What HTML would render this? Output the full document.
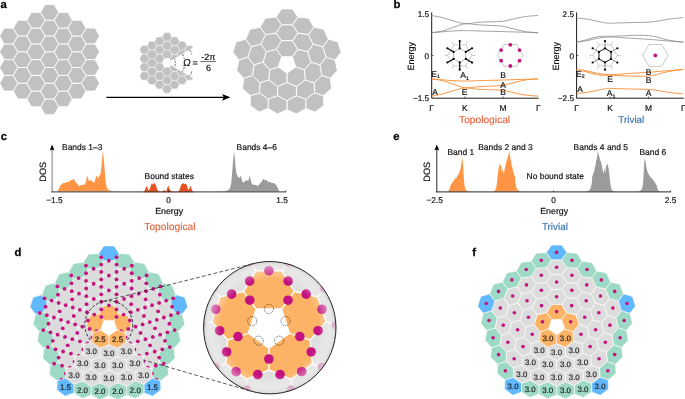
<!DOCTYPE html>
<html><head><meta charset="utf-8"><title>Figure</title>
<style>html,body{margin:0;padding:0;background:#fff}svg{display:block}</style></head>
<body>
<svg width="685" height="399" viewBox="0 0 685 399" text-rendering="geometricPrecision" font-family='"Liberation Sans", Arial, Helvetica, sans-serif'>
<defs>
<radialGradient id="lens" cx="50%" cy="50%" r="50%"><stop offset="0" stop-color="#fff" stop-opacity="0"/><stop offset="0.74" stop-color="#fff" stop-opacity="0"/><stop offset="0.9" stop-color="#f4f4f4" stop-opacity="0.45"/><stop offset="0.97" stop-color="#e2e2e2" stop-opacity="0.8"/><stop offset="1" stop-color="#cfcfcf" stop-opacity="0.9"/></radialGradient>
<radialGradient id="halo" cx="50%" cy="50%" r="50%"><stop offset="0.9" stop-color="#999" stop-opacity="0.55"/><stop offset="1" stop-color="#999" stop-opacity="0"/></radialGradient>
<clipPath id="insetclip"><circle cx="269.8" cy="327.7" r="66.2"/></clipPath>
</defs>
<rect width="685" height="399" fill="#fff"/>
<text x="0.4" y="7.9" font-size="11.3" fill="#000" font-weight="bold" stroke="#000" stroke-width="0.25">a</text>
<text x="393.4" y="8" font-size="11.3" fill="#000" font-weight="bold" stroke="#000" stroke-width="0.25">b</text>
<text x="0.8" y="140" font-size="11.3" fill="#000" font-weight="bold" stroke="#000" stroke-width="0.25">c</text>
<text x="393.2" y="140.4" font-size="11.3" fill="#000" font-weight="bold" stroke="#000" stroke-width="0.25">e</text>
<text x="14.6" y="255.8" font-size="11.3" fill="#000" font-weight="bold" stroke="#000" stroke-width="0.25">d</text>
<text x="472.2" y="255.8" font-size="11.3" fill="#000" font-weight="bold" stroke="#000" stroke-width="0.25">f</text>
<g fill="#c1c1c1" stroke="#fff" stroke-width="0.9" stroke-linejoin="round">
<polygon points="58.69,106.85 54.15,98.97 45.05,98.97 40.51,106.85 45.05,114.72 54.15,114.72"/>
<polygon points="72.33,98.97 67.79,91.1 58.69,91.1 54.15,98.97 58.69,106.85 67.79,106.85"/>
<polygon points="85.97,91.1 81.43,83.22 72.33,83.22 67.79,91.1 72.33,98.97 81.43,98.97"/>
<polygon points="99.61,83.23 95.07,75.35 85.97,75.35 81.43,83.23 85.97,91.1 95.07,91.1"/>
<polygon points="45.05,98.97 40.51,91.1 31.41,91.1 26.87,98.97 31.41,106.85 40.51,106.85"/>
<polygon points="58.69,91.1 54.15,83.22 45.05,83.22 40.51,91.1 45.05,98.97 54.15,98.97"/>
<polygon points="72.33,83.22 67.79,75.35 58.69,75.35 54.15,83.22 58.69,91.1 67.79,91.1"/>
<polygon points="85.97,75.35 81.43,67.47 72.33,67.47 67.79,75.35 72.33,83.22 81.43,83.22"/>
<polygon points="99.61,67.48 95.07,59.6 85.97,59.6 81.43,67.48 85.97,75.35 95.07,75.35"/>
<polygon points="31.41,91.1 26.87,83.22 17.77,83.22 13.23,91.1 17.77,98.97 26.87,98.97"/>
<polygon points="45.05,83.22 40.51,75.35 31.41,75.35 26.87,83.22 31.41,91.1 40.51,91.1"/>
<polygon points="58.69,75.35 54.15,67.47 45.05,67.47 40.51,75.35 45.05,83.22 54.15,83.22"/>
<polygon points="72.33,67.47 67.79,59.6 58.69,59.6 54.15,67.47 58.69,75.35 67.79,75.35"/>
<polygon points="85.97,59.6 81.43,51.73 72.33,51.73 67.79,59.6 72.33,67.47 81.43,67.48"/>
<polygon points="99.61,51.73 95.07,43.85 85.97,43.85 81.43,51.73 85.97,59.6 95.07,59.6"/>
<polygon points="17.77,83.22 13.23,75.35 4.13,75.35 -0.41,83.22 4.13,91.1 13.23,91.1"/>
<polygon points="31.41,75.35 26.87,67.47 17.77,67.47 13.23,75.35 17.77,83.22 26.87,83.22"/>
<polygon points="45.05,67.47 40.51,59.6 31.41,59.6 26.87,67.47 31.41,75.35 40.51,75.35"/>
<polygon points="58.69,59.6 54.15,51.73 45.05,51.73 40.51,59.6 45.05,67.47 54.15,67.47"/>
<polygon points="72.33,51.73 67.79,43.85 58.69,43.85 54.15,51.73 58.69,59.6 67.79,59.6"/>
<polygon points="85.97,43.85 81.43,35.98 72.33,35.98 67.79,43.85 72.33,51.73 81.43,51.73"/>
<polygon points="99.61,35.98 95.07,28.1 85.97,28.1 81.43,35.98 85.97,43.85 95.07,43.85"/>
<polygon points="17.77,67.47 13.23,59.6 4.13,59.6 -0.41,67.47 4.13,75.35 13.23,75.35"/>
<polygon points="31.41,59.6 26.87,51.73 17.77,51.73 13.23,59.6 17.77,67.47 26.87,67.47"/>
<polygon points="45.05,51.73 40.51,43.85 31.41,43.85 26.87,51.73 31.41,59.6 40.51,59.6"/>
<polygon points="58.69,43.85 54.15,35.98 45.05,35.98 40.51,43.85 45.05,51.73 54.15,51.73"/>
<polygon points="72.33,35.98 67.79,28.1 58.69,28.1 54.15,35.98 58.69,43.85 67.79,43.85"/>
<polygon points="85.97,28.1 81.43,20.23 72.33,20.23 67.79,28.1 72.33,35.97 81.43,35.98"/>
<polygon points="17.77,51.72 13.23,43.85 4.13,43.85 -0.41,51.72 4.13,59.6 13.23,59.6"/>
<polygon points="31.41,43.85 26.87,35.98 17.77,35.98 13.23,43.85 17.77,51.73 26.87,51.73"/>
<polygon points="45.05,35.98 40.51,28.1 31.41,28.1 26.87,35.98 31.41,43.85 40.51,43.85"/>
<polygon points="58.69,28.1 54.15,20.23 45.05,20.23 40.51,28.1 45.05,35.97 54.15,35.98"/>
<polygon points="72.33,20.23 67.79,12.35 58.69,12.35 54.15,20.23 58.69,28.1 67.79,28.1"/>
<polygon points="17.77,35.97 13.23,28.1 4.13,28.1 -0.41,35.97 4.13,43.85 13.23,43.85"/>
<polygon points="31.41,28.1 26.87,20.23 17.77,20.23 13.23,28.1 17.77,35.97 26.87,35.98"/>
<polygon points="45.05,20.23 40.51,12.35 31.41,12.35 26.87,20.23 31.41,28.1 40.51,28.1"/>
<polygon points="58.69,12.35 54.15,4.48 45.05,4.48 40.51,12.35 45.05,20.23 54.15,20.23"/>
</g>
<line x1="106.4" y1="97.3" x2="225" y2="97.3" stroke="#000" stroke-width="1.2"/>
<polygon points="230.4,97.3 222,93.9 223.8,97.3 222,100.7" fill="#000"/>
<g fill="#c1c1c1" stroke="#fff" stroke-width="0.45" stroke-linejoin="round">
<polygon points="172,88.88 169.5,84.55 164.5,84.55 162,88.88 164.5,93.21 169.5,93.21"/>
<polygon points="179.5,84.55 177,80.22 172,80.22 169.5,84.55 172,88.88 177,88.88"/>
<polygon points="187,80.22 184.5,75.89 179.5,75.89 177,80.22 179.5,84.55 184.5,84.55"/>
<polygon points="185.75,73.72 184.5,75.89 187,80.22 192,80.22 193.25,78.05"/>
<polygon points="164.5,84.55 162,80.22 157,80.22 154.5,84.55 157,88.88 162,88.88"/>
<polygon points="172,80.22 169.5,75.89 164.5,75.89 162,80.22 164.5,84.55 169.5,84.55"/>
<polygon points="179.5,75.89 177,71.56 172,71.56 169.5,75.89 172,80.22 177,80.22"/>
<polygon points="178.25,69.39 177,71.56 179.5,75.89 184.5,75.89 185.75,73.72"/>
<polygon points="157,80.22 154.5,75.89 149.5,75.89 147,80.22 149.5,84.55 154.5,84.55"/>
<polygon points="164.5,75.89 162,71.56 157,71.56 154.5,75.89 157,80.22 162,80.22"/>
<polygon points="172,71.56 169.5,67.23 164.5,67.23 162,71.56 164.5,75.89 169.5,75.89"/>
<polygon points="170.75,65.06 169.5,67.23 172,71.56 177,71.56 178.25,69.39"/>
<polygon points="149.5,75.89 147,71.56 142,71.56 139.5,75.89 142,80.22 147,80.22"/>
<polygon points="157,71.56 154.5,67.23 149.5,67.23 147,71.56 149.5,75.89 154.5,75.89"/>
<polygon points="164.5,67.23 162,62.9 157,62.9 154.5,67.23 157,71.56 162,71.56"/>
<polygon points="178.25,56.41 177,54.24 172,54.24 169.5,58.57 170.75,60.73"/>
<polygon points="185.75,52.08 184.5,49.91 179.5,49.91 177,54.24 178.25,56.41"/>
<polygon points="193.25,47.75 192,45.58 187,45.58 184.5,49.91 185.75,52.08"/>
<polygon points="149.5,67.23 147,62.9 142,62.9 139.5,67.23 142,71.56 147,71.56"/>
<polygon points="157,62.9 154.5,58.57 149.5,58.57 147,62.9 149.5,67.23 154.5,67.23"/>
<polygon points="164.5,58.57 162,54.24 157,54.24 154.5,58.57 157,62.9 162,62.9"/>
<polygon points="172,54.24 169.5,49.91 164.5,49.91 162,54.24 164.5,58.57 169.5,58.57"/>
<polygon points="179.5,49.91 177,45.58 172,45.58 169.5,49.91 172,54.24 177,54.24"/>
<polygon points="187,45.58 184.5,41.25 179.5,41.25 177,45.58 179.5,49.91 184.5,49.91"/>
<polygon points="149.5,58.57 147,54.24 142,54.24 139.5,58.57 142,62.9 147,62.9"/>
<polygon points="157,54.24 154.5,49.91 149.5,49.91 147,54.24 149.5,58.57 154.5,58.57"/>
<polygon points="164.5,49.91 162,45.58 157,45.58 154.5,49.91 157,54.24 162,54.24"/>
<polygon points="172,45.58 169.5,41.25 164.5,41.25 162,45.58 164.5,49.91 169.5,49.91"/>
<polygon points="179.5,41.25 177,36.92 172,36.92 169.5,41.25 172,45.58 177,45.58"/>
<polygon points="149.5,49.91 147,45.58 142,45.58 139.5,49.91 142,54.24 147,54.24"/>
<polygon points="157,45.58 154.5,41.25 149.5,41.25 147,45.58 149.5,49.91 154.5,49.91"/>
<polygon points="164.5,41.25 162,36.92 157,36.92 154.5,41.25 157,45.58 162,45.58"/>
<polygon points="172,36.92 169.5,32.59 164.5,32.59 162,36.92 164.5,41.25 169.5,41.25"/>
</g>
<path d="M174.27 58.7A8.4 8.4 0 0 1 174.27 67.1" fill="none" stroke="#222" stroke-width="0.7" stroke-dasharray="1.7 1.1"/>
<path d="M182.42 54A17.8 17.8 0 0 1 184.34 58.9" fill="none" stroke="#222" stroke-width="0.7" stroke-dasharray="2.4 1.4"/>
<path d="M184.34 66.9A17.8 17.8 0 0 1 182.42 71.8" fill="none" stroke="#222" stroke-width="0.7" stroke-dasharray="2.4 1.4"/>
<path d="M189.78 49.75A26.3 26.3 0 0 1 191.87 54.34" fill="none" stroke="#222" stroke-width="0.7" stroke-dasharray="2.4 1.4"/>
<path d="M191.87 71.46A26.3 26.3 0 0 1 189.78 76.05" fill="none" stroke="#222" stroke-width="0.7" stroke-dasharray="2.4 1.4"/>
<text x="182.9" y="65.5" font-size="10" fill="#111" font-style="italic" stroke="#111" stroke-width="0.18">&#937;</text>
<text x="192.6" y="65.6" font-size="9" fill="#111" stroke="#111" stroke-width="0.18">=</text>
<text x="208.3" y="59.8" font-size="9" fill="#111" text-anchor="middle" stroke="#111" stroke-width="0.18">-2&#960;</text>
<line x1="200.4" y1="61.5" x2="216" y2="61.5" stroke="#111" stroke-width="0.6"/>
<text x="208.6" y="71" font-size="9" fill="#111" text-anchor="middle" stroke="#111" stroke-width="0.18">6</text>
<g stroke="#fff" stroke-width="0.9" stroke-linejoin="round">
<polygon points="323.47,95.72 314.57,92.75 305.73,99.18 305.8,108.56 315.03,111.99 323.88,105.56" fill="#c1c1c1"/>
<polygon points="330.38,78.19 321.7,75.38 314.05,82.81 314.57,92.75 323.47,95.72 331.53,88.52" fill="#c1c1c1"/>
<polygon points="335.09,59.95 326.15,57.13 319.88,64.86 321.7,75.38 330.38,78.19 337.38,70.52" fill="#c1c1c1"/>
<polygon points="305.73,99.18 296.44,95.61 287,100.59 287,109.71 296.46,114 305.8,108.56" fill="#c1c1c1"/>
<polygon points="314.05,82.81 305.23,79.91 296.4,86.33 296.44,95.61 305.73,99.18 314.57,92.75" fill="#c1c1c1"/>
<polygon points="319.88,64.86 311.05,62.03 304.35,69.74 305.23,79.91 314.05,82.81 321.7,75.38" fill="#c1c1c1"/>
<polygon points="287,100.59 277.56,95.61 268.27,99.18 268.2,108.56 277.54,114 287,109.71" fill="#c1c1c1"/>
<polygon points="296.4,86.33 287,82.34 277.6,86.33 277.56,95.61 287,100.59 296.44,95.61" fill="#c1c1c1"/>
<polygon points="304.35,69.74 295.68,66.92 287,73.22 287,82.34 296.4,86.33 305.23,79.91" fill="#c1c1c1"/>
<polygon points="268.27,99.18 259.43,92.75 250.53,95.72 250.12,105.56 258.97,111.99 268.2,108.56" fill="#c1c1c1"/>
<polygon points="277.6,86.33 268.77,79.91 259.95,82.81 259.43,92.75 268.27,99.18 277.56,95.61" fill="#c1c1c1"/>
<polygon points="287,73.22 278.32,66.92 269.65,69.74 268.77,79.91 277.6,86.33 287,82.34" fill="#c1c1c1"/>
<polygon points="311.05,62.03 307.67,51.64 297.72,49.34 292.36,56.72 295.68,66.92 304.35,69.74" fill="#c1c1c1"/>
<polygon points="326.15,57.13 322.77,46.73 313.16,44.16 307.67,51.64 311.05,62.03 319.88,64.86" fill="#c1c1c1"/>
<polygon points="341.21,52.24 337.82,41.83 328.34,39.19 322.77,46.73 326.15,57.13 335.09,59.95" fill="#c1c1c1"/>
<polygon points="259.95,82.81 252.3,75.38 243.62,78.19 242.47,88.52 250.53,95.72 259.43,92.75" fill="#c1c1c1"/>
<polygon points="269.65,69.74 262.95,62.03 254.12,64.86 252.3,75.38 259.95,82.81 268.77,79.91" fill="#c1c1c1"/>
<polygon points="281.64,56.72 276.28,49.34 266.33,51.64 262.95,62.03 269.65,69.74 278.32,66.92" fill="#c1c1c1"/>
<polygon points="297.72,49.34 292.46,40.59 281.54,40.59 276.28,49.34 281.64,56.72 292.36,56.72" fill="#c1c1c1"/>
<polygon points="313.16,44.16 308.45,34.58 297.88,33.06 292.46,40.59 297.72,49.34 307.67,51.64" fill="#c1c1c1"/>
<polygon points="328.34,39.19 323.99,29.29 313.81,27.2 308.45,34.58 313.16,44.16 322.77,46.73" fill="#c1c1c1"/>
<polygon points="254.12,64.86 247.85,57.13 238.91,59.95 236.62,70.52 243.62,78.19 252.3,75.38" fill="#c1c1c1"/>
<polygon points="266.33,51.64 260.84,44.16 251.23,46.73 247.85,57.13 254.12,64.86 262.95,62.03" fill="#c1c1c1"/>
<polygon points="281.54,40.59 276.12,33.06 265.55,34.58 260.84,44.16 266.33,51.64 276.28,49.34" fill="#c1c1c1"/>
<polygon points="297.88,33.06 292.47,24.72 281.53,24.72 276.12,33.06 281.54,40.59 292.46,40.59" fill="#c1c1c1"/>
<polygon points="313.81,27.2 308.68,18.17 297.92,17.08 292.47,24.72 297.88,33.06 308.45,34.58" fill="#c1c1c1"/>
<polygon points="251.23,46.73 245.66,39.19 236.18,41.83 232.79,52.24 238.91,59.95 247.85,57.13" fill="#c1c1c1"/>
<polygon points="265.55,34.58 260.19,27.2 250.01,29.29 245.66,39.19 251.23,46.73 260.84,44.16" fill="#c1c1c1"/>
<polygon points="281.53,24.72 276.08,17.08 265.32,18.17 260.19,27.2 265.55,34.58 276.12,33.06" fill="#c1c1c1"/>
<polygon points="297.92,17.08 292.47,8.88 281.53,8.88 276.08,17.08 281.53,24.72 292.47,24.72" fill="#c1c1c1"/>
</g>
<path d="M431.7 12.4V98.2H538.7" fill="none" stroke="#000" stroke-width="0.9"/>
<line x1="464.8" y1="98.2" x2="464.8" y2="96.6" stroke="#000" stroke-width="0.6"/>
<line x1="503.1" y1="98.2" x2="503.1" y2="96.6" stroke="#000" stroke-width="0.6"/>
<path d="M431.66 15.51C433.47 15.86 438.96 16.74 442.52 17.61C446.08 18.49 449.29 19.75 453.03 20.77C456.77 21.79 460.86 23.48 464.94 23.75C469.03 24.01 473.12 22.67 477.56 22.34C482 22.02 487.28 21.99 491.57 21.82C495.87 21.64 499.22 21.88 503.31 21.29C507.4 20.71 512.22 19.13 516.1 18.31C519.98 17.5 522.93 16.85 526.61 16.39C530.29 15.92 536.25 15.66 538.17 15.51" fill="none" stroke="#8c8c8c" stroke-width="0.8"/>
<path d="M431.66 96.09C433.47 95.74 438.96 94.86 442.52 93.99C446.08 93.11 449.29 91.85 453.03 90.83C456.77 89.81 460.86 88.12 464.94 87.85C469.03 87.59 473.12 88.93 477.56 89.26C482 89.58 487.28 89.61 491.57 89.78C495.87 89.96 499.22 89.72 503.31 90.31C507.4 90.89 512.22 92.47 516.1 93.29C519.98 94.1 522.93 94.75 526.61 95.21C530.29 95.68 536.25 95.94 538.17 96.09" fill="none" stroke="#f7913d" stroke-width="0.95"/>
<path d="M431.66 32.68C433.47 32.39 438.96 31.8 442.52 30.93C446.08 30.05 449.29 28.62 453.03 27.42C456.77 26.23 460.86 24.18 464.94 23.75C469.03 23.31 473.12 24.5 477.56 24.8C482 25.09 487.28 25.23 491.57 25.5C495.87 25.76 499.22 25.7 503.31 26.37C507.4 27.05 512.22 28.62 516.1 29.53C519.98 30.43 522.93 31.28 526.61 31.8C530.29 32.33 536.25 32.53 538.17 32.68" fill="none" stroke="#8c8c8c" stroke-width="0.8"/>
<path d="M431.66 78.92C433.47 79.21 438.96 79.8 442.52 80.67C446.08 81.55 449.29 82.98 453.03 84.18C456.77 85.37 460.86 87.42 464.94 87.85C469.03 88.29 473.12 87.1 477.56 86.8C482 86.51 487.28 86.37 491.57 86.1C495.87 85.84 499.22 85.9 503.31 85.23C507.4 84.55 512.22 82.98 516.1 82.07C519.98 81.17 522.93 80.32 526.61 79.8C530.29 79.27 536.25 79.07 538.17 78.92" fill="none" stroke="#f7913d" stroke-width="0.95"/>
<path d="M431.66 32.68C433.47 32.53 438.96 32.1 442.52 31.8C446.08 31.51 449.29 31.13 453.03 30.93C456.77 30.72 460.86 30.58 464.94 30.58C469.03 30.58 471.16 30.75 477.56 30.93C483.95 31.1 496.01 31.42 503.31 31.63C510.61 31.83 515.55 31.98 521.36 32.15C527.17 32.33 535.37 32.59 538.17 32.68" fill="none" stroke="#8c8c8c" stroke-width="0.8"/>
<path d="M431.66 78.92C433.47 79.07 438.96 79.5 442.52 79.8C446.08 80.09 449.29 80.47 453.03 80.67C456.77 80.88 460.86 81.02 464.94 81.02C469.03 81.02 471.16 80.85 477.56 80.67C483.95 80.5 496.01 80.18 503.31 79.97C510.61 79.77 515.55 79.62 521.36 79.45C527.17 79.27 535.37 79.01 538.17 78.92" fill="none" stroke="#f7913d" stroke-width="0.95"/>
<text x="429.1" y="16.8" font-size="8.2" fill="#111" text-anchor="end" stroke="#111" stroke-width="0.18">1.5</text>
<text x="429.1" y="58.6" font-size="8.2" fill="#111" text-anchor="end" stroke="#111" stroke-width="0.18">0</text>
<line x1="431.7" y1="55.5" x2="433.5" y2="55.5" stroke="#000" stroke-width="0.6"/>
<text x="429.1" y="100.5" font-size="8.2" fill="#111" text-anchor="end" stroke="#111" stroke-width="0.18">&#8722;1.5</text>
<text x="431.7" y="110.6" font-size="8.45" fill="#111" text-anchor="middle" stroke="#111" stroke-width="0.18">&#915;</text>
<text x="464.8" y="110.6" font-size="8.45" fill="#111" text-anchor="middle" stroke="#111" stroke-width="0.18">K</text>
<text x="503.1" y="110.6" font-size="8.45" fill="#111" text-anchor="middle" stroke="#111" stroke-width="0.18">M</text>
<text x="538.3" y="110.6" font-size="8.45" fill="#111" text-anchor="middle" stroke="#111" stroke-width="0.18">&#915;</text>
<text transform="translate(413.7 56.3) rotate(-90)" font-size="9" text-anchor="middle" fill="#111" stroke="#111" stroke-width="0.18">Energy</text>
<text x="484.6" y="123.1" font-size="10.2" fill="#e8613c" text-anchor="middle" stroke="#e8613c" stroke-width="0.12">Topological</text>
<path d="M576.6 12.4V98.2H683.8" fill="none" stroke="#000" stroke-width="0.9"/>
<line x1="610.1" y1="98.2" x2="610.1" y2="96.6" stroke="#000" stroke-width="0.6"/>
<line x1="648.5" y1="98.2" x2="648.5" y2="96.6" stroke="#000" stroke-width="0.6"/>
<path d="M576.56 18.14C578.14 18.29 582.69 18.52 586.02 19.02C589.35 19.51 593.32 20.48 596.53 21.12C599.75 21.76 602.96 22.52 605.29 22.87C607.63 23.22 607.05 23.25 610.55 23.22C614.05 23.19 619.98 22.87 626.32 22.69C632.65 22.52 643.02 22.49 648.57 22.17C654.11 21.85 656.01 21.29 659.6 20.77C663.2 20.24 666.17 19.54 670.12 19.02C674.06 18.49 681.07 17.85 683.26 17.61" fill="none" stroke="#8c8c8c" stroke-width="0.8"/>
<path d="M576.56 93.46C578.14 93.31 582.69 93.08 586.02 92.58C589.35 92.09 593.32 91.12 596.53 90.48C599.75 89.84 602.96 89.08 605.29 88.73C607.63 88.38 607.05 88.35 610.55 88.38C614.05 88.41 619.98 88.73 626.32 88.91C632.65 89.08 643.02 89.11 648.57 89.43C654.11 89.75 656.01 90.31 659.6 90.83C663.2 91.36 666.17 92.06 670.12 92.58C674.06 93.11 681.07 93.75 683.26 93.99" fill="none" stroke="#f7913d" stroke-width="0.95"/>
<path d="M576.56 42.14C578.14 41.76 582.69 40.74 586.02 39.86C589.35 38.99 593.32 37.5 596.53 36.89C599.75 36.27 603.05 36.27 605.29 36.18C607.54 36.1 606.52 36.45 610.02 36.36C613.53 36.27 621.56 35.83 626.32 35.66C631.08 35.48 634.87 35.31 638.58 35.31C642.29 35.31 645.65 35.4 648.57 35.66C651.49 35.92 653.09 36.21 656.1 36.89C659.11 37.56 663.11 38.93 666.61 39.69C670.12 40.45 674.35 41.03 677.12 41.44C679.9 41.85 682.23 42.02 683.26 42.14" fill="none" stroke="#8c8c8c" stroke-width="0.8"/>
<path d="M576.56 69.46C578.14 69.84 582.69 70.86 586.02 71.74C589.35 72.61 593.32 74.1 596.53 74.71C599.75 75.33 603.05 75.33 605.29 75.42C607.54 75.5 606.52 75.15 610.02 75.24C613.53 75.33 621.56 75.77 626.32 75.94C631.08 76.12 634.87 76.29 638.58 76.29C642.29 76.29 645.65 76.2 648.57 75.94C651.49 75.68 653.09 75.39 656.1 74.71C659.11 74.04 663.11 72.67 666.61 71.91C670.12 71.15 674.35 70.57 677.12 70.16C679.9 69.75 682.23 69.58 683.26 69.46" fill="none" stroke="#f7913d" stroke-width="0.95"/>
<path d="M576.56 42.14C578.14 41.94 582.69 41.53 586.02 40.91C589.35 40.3 592.53 39.13 596.53 38.46C600.53 37.79 605.06 36.97 610.02 36.89C614.99 36.8 619.89 37.53 626.32 37.94C632.74 38.35 642.44 38.9 648.57 39.34C654.7 39.78 657.33 40.1 663.11 40.56C668.89 41.03 679.9 41.88 683.26 42.14" fill="none" stroke="#8c8c8c" stroke-width="0.8"/>
<path d="M576.56 69.46C578.14 69.66 582.69 70.07 586.02 70.69C589.35 71.3 592.53 72.47 596.53 73.14C600.53 73.81 605.06 74.63 610.02 74.71C614.99 74.8 619.89 74.07 626.32 73.66C632.74 73.25 642.44 72.7 648.57 72.26C654.7 71.82 657.33 71.5 663.11 71.04C668.89 70.57 679.9 69.72 683.26 69.46" fill="none" stroke="#f7913d" stroke-width="0.95"/>
<text x="574" y="16.8" font-size="8.2" fill="#111" text-anchor="end" stroke="#111" stroke-width="0.18">2.5</text>
<text x="574" y="58.6" font-size="8.2" fill="#111" text-anchor="end" stroke="#111" stroke-width="0.18">0</text>
<line x1="576.6" y1="55.5" x2="578.4" y2="55.5" stroke="#000" stroke-width="0.6"/>
<text x="574" y="100.5" font-size="8.2" fill="#111" text-anchor="end" stroke="#111" stroke-width="0.18">&#8722;2.5</text>
<text x="576.6" y="110.6" font-size="8.45" fill="#111" text-anchor="middle" stroke="#111" stroke-width="0.18">&#915;</text>
<text x="610.1" y="110.6" font-size="8.45" fill="#111" text-anchor="middle" stroke="#111" stroke-width="0.18">K</text>
<text x="648.5" y="110.6" font-size="8.45" fill="#111" text-anchor="middle" stroke="#111" stroke-width="0.18">M</text>
<text x="683.4" y="110.6" font-size="8.45" fill="#111" text-anchor="middle" stroke="#111" stroke-width="0.18">&#915;</text>
<text transform="translate(558.6 56.3) rotate(-90)" font-size="9" text-anchor="middle" fill="#111" stroke="#111" stroke-width="0.18">Energy</text>
<text x="631.3" y="123.1" font-size="9.9" fill="#2f6fb3" text-anchor="middle" stroke="#2f6fb3" stroke-width="0.12">Trivial</text>
<text x="435.6" y="76.8" font-size="8.5" fill="#111" stroke="#111" stroke-width="0.18" text-anchor="middle">E<tspan font-size="5.2" dy="1.6">1</tspan></text>
<text x="435.2" y="95" font-size="8.5" fill="#111" text-anchor="middle" stroke="#111" stroke-width="0.18">A</text>
<text x="464.6" y="78" font-size="8.5" fill="#111" stroke="#111" stroke-width="0.18" text-anchor="middle">A<tspan font-size="5.2" dy="1.6">1</tspan></text>
<text x="464.6" y="95" font-size="8.5" fill="#111" text-anchor="middle" stroke="#111" stroke-width="0.18">E</text>
<text x="503.2" y="78" font-size="8.5" fill="#111" text-anchor="middle" stroke="#111" stroke-width="0.18">B</text>
<text x="503.2" y="87.6" font-size="8.5" fill="#111" text-anchor="middle" stroke="#111" stroke-width="0.18">A</text>
<text x="503.2" y="95.4" font-size="8.5" fill="#111" text-anchor="middle" stroke="#111" stroke-width="0.18">B</text>
<text x="580.4" y="76.8" font-size="8.5" fill="#111" stroke="#111" stroke-width="0.18" text-anchor="middle">E<tspan font-size="5.2" dy="1.6">2</tspan></text>
<text x="580" y="92.4" font-size="8.5" fill="#111" text-anchor="middle" stroke="#111" stroke-width="0.18">A</text>
<text x="610.2" y="82" font-size="8.5" fill="#111" text-anchor="middle" stroke="#111" stroke-width="0.18">E</text>
<text x="611" y="96.2" font-size="8.5" fill="#111" stroke="#111" stroke-width="0.18" text-anchor="middle">A<tspan font-size="5.2" dy="1.6">1</tspan></text>
<text x="648.6" y="75.2" font-size="8.5" fill="#111" text-anchor="middle" stroke="#111" stroke-width="0.18">B</text>
<text x="648.6" y="83.2" font-size="8.5" fill="#111" text-anchor="middle" stroke="#111" stroke-width="0.18">B</text>
<text x="648.6" y="96.4" font-size="8.5" fill="#111" text-anchor="middle" stroke="#111" stroke-width="0.18">A</text>
<line x1="471.8" y1="55.4" x2="465.75" y2="44.92" stroke="#666" stroke-width="0.33"/>
<line x1="471.8" y1="55.4" x2="475.5" y2="55.4" stroke="#666" stroke-width="0.33"/>
<line x1="465.75" y1="44.92" x2="453.65" y2="44.92" stroke="#d0d0d0" stroke-width="0.9"/>
<line x1="465.75" y1="44.92" x2="467.6" y2="41.72" stroke="#666" stroke-width="0.33"/>
<line x1="453.65" y1="44.92" x2="447.6" y2="55.4" stroke="#666" stroke-width="0.33"/>
<line x1="453.65" y1="44.92" x2="451.8" y2="41.72" stroke="#666" stroke-width="0.33"/>
<line x1="447.6" y1="55.4" x2="453.65" y2="65.88" stroke="#666" stroke-width="0.33"/>
<line x1="447.6" y1="55.4" x2="443.9" y2="55.4" stroke="#666" stroke-width="0.33"/>
<line x1="453.65" y1="65.88" x2="465.75" y2="65.88" stroke="#666" stroke-width="0.33"/>
<line x1="453.65" y1="65.88" x2="451.8" y2="69.08" stroke="#666" stroke-width="0.33"/>
<line x1="465.75" y1="65.88" x2="471.8" y2="55.4" stroke="#666" stroke-width="0.33"/>
<line x1="465.75" y1="65.88" x2="467.6" y2="69.08" stroke="#666" stroke-width="0.33"/>
<polygon points="465.76,51.9 459.7,48.4 453.64,51.9 453.64,58.9 459.7,62.4 465.76,58.9" fill="none" stroke="#333" stroke-width="0.35"/>
<line x1="465.76" y1="51.9" x2="472.04" y2="48.27" stroke="#000" stroke-width="1.15"/>
<line x1="459.7" y1="48.4" x2="459.7" y2="41.15" stroke="#000" stroke-width="1.15"/>
<line x1="453.64" y1="51.9" x2="447.36" y2="48.27" stroke="#000" stroke-width="1.15"/>
<line x1="453.64" y1="58.9" x2="447.36" y2="62.52" stroke="#000" stroke-width="1.15"/>
<line x1="459.7" y1="62.4" x2="459.7" y2="69.65" stroke="#000" stroke-width="1.15"/>
<line x1="465.76" y1="58.9" x2="472.04" y2="62.53" stroke="#000" stroke-width="1.15"/>
<circle cx="465.76" cy="51.9" r="1.1" fill="#000"/>
<circle cx="459.7" cy="48.4" r="1.1" fill="#000"/>
<circle cx="453.64" cy="51.9" r="1.1" fill="#000"/>
<circle cx="453.64" cy="58.9" r="1.1" fill="#000"/>
<circle cx="459.7" cy="62.4" r="1.1" fill="#000"/>
<circle cx="465.76" cy="58.9" r="1.1" fill="#000"/>
<circle cx="472.04" cy="48.27" r="1.1" fill="#000"/>
<circle cx="459.7" cy="41.15" r="1.1" fill="#000"/>
<circle cx="447.36" cy="48.27" r="1.1" fill="#000"/>
<circle cx="447.36" cy="62.52" r="1.1" fill="#000"/>
<circle cx="459.7" cy="69.65" r="1.1" fill="#000"/>
<circle cx="472.04" cy="62.53" r="1.1" fill="#000"/>
<line x1="617.1" y1="55.4" x2="611.05" y2="44.92" stroke="#666" stroke-width="0.33"/>
<line x1="617.1" y1="55.4" x2="620.8" y2="55.4" stroke="#666" stroke-width="0.33"/>
<line x1="611.05" y1="44.92" x2="598.95" y2="44.92" stroke="#d0d0d0" stroke-width="0.9"/>
<line x1="611.05" y1="44.92" x2="612.9" y2="41.72" stroke="#666" stroke-width="0.33"/>
<line x1="598.95" y1="44.92" x2="592.9" y2="55.4" stroke="#666" stroke-width="0.33"/>
<line x1="598.95" y1="44.92" x2="597.1" y2="41.72" stroke="#666" stroke-width="0.33"/>
<line x1="592.9" y1="55.4" x2="598.95" y2="65.88" stroke="#666" stroke-width="0.33"/>
<line x1="592.9" y1="55.4" x2="589.2" y2="55.4" stroke="#666" stroke-width="0.33"/>
<line x1="598.95" y1="65.88" x2="611.05" y2="65.88" stroke="#666" stroke-width="0.33"/>
<line x1="598.95" y1="65.88" x2="597.1" y2="69.08" stroke="#666" stroke-width="0.33"/>
<line x1="611.05" y1="65.88" x2="617.1" y2="55.4" stroke="#666" stroke-width="0.33"/>
<line x1="611.05" y1="65.88" x2="612.9" y2="69.08" stroke="#666" stroke-width="0.33"/>
<line x1="611.06" y1="51.9" x2="617.34" y2="48.27" stroke="#111" stroke-width="0.45"/>
<line x1="605" y1="48.4" x2="605" y2="41.15" stroke="#111" stroke-width="0.45"/>
<line x1="598.94" y1="51.9" x2="592.66" y2="48.27" stroke="#111" stroke-width="0.45"/>
<line x1="598.94" y1="58.9" x2="592.66" y2="62.52" stroke="#111" stroke-width="0.45"/>
<line x1="605" y1="62.4" x2="605" y2="69.65" stroke="#111" stroke-width="0.45"/>
<line x1="611.06" y1="58.9" x2="617.34" y2="62.53" stroke="#111" stroke-width="0.45"/>
<polygon points="611.06,51.9 605,48.4 598.94,51.9 598.94,58.9 605,62.4 611.06,58.9" fill="none" stroke="#000" stroke-width="0.9"/>
<circle cx="611.06" cy="51.9" r="1.1" fill="#000"/>
<circle cx="605" cy="48.4" r="1.1" fill="#000"/>
<circle cx="598.94" cy="51.9" r="1.1" fill="#000"/>
<circle cx="598.94" cy="58.9" r="1.1" fill="#000"/>
<circle cx="605" cy="62.4" r="1.1" fill="#000"/>
<circle cx="611.06" cy="58.9" r="1.1" fill="#000"/>
<circle cx="617.34" cy="48.27" r="1.1" fill="#000"/>
<circle cx="605" cy="41.15" r="1.1" fill="#000"/>
<circle cx="592.66" cy="48.27" r="1.1" fill="#000"/>
<circle cx="592.66" cy="62.52" r="1.1" fill="#000"/>
<circle cx="605" cy="69.65" r="1.1" fill="#000"/>
<circle cx="617.34" cy="62.53" r="1.1" fill="#000"/>
<polygon points="522.9,55.4 516.6,44.49 504,44.49 497.7,55.4 504,66.31 516.6,66.31" fill="none" stroke="#777" stroke-width="0.4" stroke-linejoin="round"/>
<circle cx="519.48" cy="50.1" r="1.9" fill="#c4127f"/>
<circle cx="510.3" cy="44.8" r="1.9" fill="#c4127f"/>
<circle cx="501.12" cy="50.1" r="1.9" fill="#c4127f"/>
<circle cx="501.12" cy="60.7" r="1.9" fill="#c4127f"/>
<circle cx="510.3" cy="66" r="1.9" fill="#c4127f"/>
<circle cx="519.48" cy="60.7" r="1.9" fill="#c4127f"/>
<polygon points="667.9,55.4 661.6,44.49 649,44.49 642.7,55.4 649,66.31 661.6,66.31" fill="none" stroke="#777" stroke-width="0.4" stroke-linejoin="round"/>
<circle cx="655.3" cy="55.4" r="1.9" fill="#c4127f"/>
<polygon points="57.59,191.61 59.02,188.55 60.66,185.07 62.29,183.64 63.72,182.82 65.15,183.23 66.79,181.8 68.42,182.21 69.85,180.78 70.87,180.37 72.31,179.96 73.94,178.74 74.96,181.19 75.98,182.41 77.41,184.05 79.05,186.09 80.68,185.28 82.12,185.07 83.55,184.66 85.18,184.05 86.2,180.37 87.22,175.47 88.04,178.33 88.86,180.98 90.09,179.96 91.31,180.78 92.95,182.01 94.38,182.41 95.4,178.74 96.42,175.47 97.44,177.51 98.47,177.92 99.49,175.87 100.51,173.83 101.53,165.66 102.35,156.46 102.96,151.35 103.57,156.46 104.39,166.68 105.62,182.01 106.64,187.12 107.66,189.36 109.71,190.59 111.75,191 115.84,191.61" fill="#ff9544"/>
<polygon points="279.41,191.61 277.98,188.55 276.34,185.07 274.71,183.64 273.28,182.82 271.85,183.23 270.21,181.8 268.58,182.21 267.15,180.78 266.13,180.37 264.69,179.96 263.06,178.74 262.04,181.19 261.02,182.41 259.59,184.05 257.95,186.09 256.32,185.28 254.88,185.07 253.45,184.66 251.82,184.05 250.8,180.37 249.78,175.47 248.96,178.33 248.14,180.98 246.91,179.96 245.69,180.78 244.05,182.01 242.62,182.41 241.6,178.74 240.58,175.47 239.56,177.51 238.53,177.92 237.51,175.87 236.49,173.83 235.47,165.66 234.65,156.46 234.04,151.35 233.43,156.46 232.61,166.68 231.38,182.01 230.36,187.12 229.34,189.36 227.29,190.59 225.25,191 221.16,191.61" fill="#9b9b9b"/>
<polygon points="143.65,192.33 144.89,190.1 145.88,187.62 146.88,185.63 147.62,188.11 148.37,190.85 149.36,189.6 150.35,187.62 151.35,184.14 152.09,183.15 153.08,184.64 154.08,182.9 155.07,183.65 155.81,185.14 156.81,188.36 157.8,190.6 159.29,191.59 161.77,191.84 163.26,191.09 164.25,189.85 165.24,191.09 166.24,191.59 167.23,188.36 168.22,185.14 169.22,188.36 170.21,190.35 171.7,191.34 173.68,191.84 177.16,191.84 178.9,191.09 180.14,188.36 181.13,184.64 182.12,183.65 183.36,183.15 184.6,183.9 185.85,183.65 186.84,185.14 187.58,188.36 188.58,190.1 189.57,188.11 190.31,185.63 191.31,188.11 192.05,190.6 193.04,191.84 194.53,192.33" fill="#e8501e"/>
<path d="M52.1 148.5V192.4" fill="none" stroke="#7a7a7a" stroke-width="1.0"/>
<path d="M51.6 191.9H286.1" fill="none" stroke="#333" stroke-width="1.0"/>
<polygon points="52.1,144.4 49.7,150.6 52.1,149.4 54.5,150.6" fill="#000"/>
<line x1="168.5" y1="191.9" x2="168.5" y2="190.4" stroke="#000" stroke-width="0.6"/>
<line x1="285.8" y1="191.9" x2="285.8" y2="190.4" stroke="#000" stroke-width="0.6"/>
<text x="54.4" y="202.6" font-size="8.3" fill="#111" text-anchor="middle" stroke="#111" stroke-width="0.18">&#8722;1.5</text>
<text x="168.5" y="202.6" font-size="8.3" fill="#111" text-anchor="middle" stroke="#111" stroke-width="0.18">0</text>
<text x="282.1" y="202.6" font-size="8.3" fill="#111" text-anchor="middle" stroke="#111" stroke-width="0.18">1.5</text>
<text x="169.1" y="214.2" font-size="8.8" fill="#111" text-anchor="middle" stroke="#111" stroke-width="0.18">Energy</text>
<text transform="translate(45.5 171.8) rotate(-90)" font-size="9.2" text-anchor="middle" fill="#111" stroke="#111" stroke-width="0.18">DOS</text>
<text x="62" y="149.6" font-size="8.45" fill="#111" stroke="#111" stroke-width="0.18">Bands 1&#8211;3</text>
<text x="236.6" y="149.6" font-size="8.45" fill="#111" stroke="#111" stroke-width="0.18">Bands 4&#8211;6</text>
<text x="144.6" y="179" font-size="8.45" fill="#111" stroke="#111" stroke-width="0.18">Bound states</text>
<text x="144.3" y="229.6" font-size="10.25" fill="#e8613c" stroke="#e8613c" stroke-width="0.12">Topological</text>
<polygon points="447.59,191.61 448.82,190.59 449.84,188.55 450.66,185.28 451.27,183.64 452.09,183.23 452.7,181.6 453.52,181.19 454.13,179.14 454.95,179.55 455.77,177.51 456.58,177.92 457.2,175.87 458.01,175.47 458.83,173.42 459.65,171.79 460.47,168.93 461.08,165.66 461.69,161.57 462.31,158.3 462.92,162.59 463.33,168.72 463.94,179.96 464.55,186.09 465.37,188.95 466.6,190.39 468.23,191.2 470.28,191.61" fill="#ff9544"/>
<polygon points="493.17,191.61 494.8,190.59 496.03,188.55 496.84,184.05 497.66,175.87 498.48,169.33 499.3,165.25 499.91,163.2 500.52,166.06 501.14,165.25 501.75,173.01 502.36,169.74 502.77,168.31 503.38,172.2 504,173.83 504.61,169.33 505.22,166.68 505.84,163.61 506.45,161.16 507.06,159.93 507.68,157.48 508.29,155.44 508.9,152.98 509.31,150.74 509.92,155.44 510.54,159.12 511.15,161.16 511.76,165.66 512.38,167.29 512.99,171.38 513.6,172.6 514.22,175.06 514.83,175.87 515.44,183.03 516.26,187.32 517.28,189.57 518.92,190.79 521.16,191.41 523.41,191.61" fill="#ff9544"/>
<polygon points="659.61,191.61 658.38,190.59 657.36,188.55 656.54,185.28 655.93,183.64 655.11,183.23 654.5,181.6 653.68,181.19 653.07,179.14 652.25,179.55 651.43,177.51 650.62,177.92 650,175.87 649.19,175.47 648.37,173.42 647.55,171.79 646.73,168.93 646.12,165.66 645.51,161.57 644.89,158.3 644.28,162.59 643.87,168.72 643.26,179.96 642.65,186.09 641.83,188.95 640.6,190.39 638.97,191.2 636.92,191.61" fill="#9b9b9b"/>
<polygon points="614.03,191.61 612.4,190.59 611.17,188.55 610.36,184.05 609.54,175.87 608.72,169.33 607.9,165.25 607.29,163.2 606.68,166.06 606.06,165.25 605.45,173.01 604.84,169.74 604.43,168.31 603.82,172.2 603.2,173.83 602.59,169.33 601.98,166.68 601.36,163.61 600.75,161.16 600.14,159.93 599.52,157.48 598.91,155.44 598.3,152.98 597.89,150.74 597.28,155.44 596.66,159.12 596.05,161.16 595.44,165.66 594.82,167.29 594.21,171.38 593.6,172.6 592.98,175.06 592.37,175.87 591.76,183.03 590.94,187.32 589.92,189.57 588.28,190.79 586.04,191.41 583.79,191.61" fill="#9b9b9b"/>
<path d="M436.8 148.5V192.33" fill="none" stroke="#000" stroke-width="0.85"/>
<path d="M436.38 191.9H671" fill="none" stroke="#000" stroke-width="0.85"/>
<polygon points="436.8,144.4 434.4,150.6 436.8,149.4 439.2,150.6" fill="#000"/>
<line x1="553.6" y1="191.9" x2="553.6" y2="190.4" stroke="#000" stroke-width="0.6"/>
<line x1="670.7" y1="191.9" x2="670.7" y2="190.4" stroke="#000" stroke-width="0.6"/>
<text x="434.7" y="202.6" font-size="8.3" fill="#111" text-anchor="middle" stroke="#111" stroke-width="0.18">&#8722;2.5</text>
<text x="553.6" y="202.6" font-size="8.3" fill="#111" text-anchor="middle" stroke="#111" stroke-width="0.18">0</text>
<text x="670.5" y="202.6" font-size="8.3" fill="#111" text-anchor="middle" stroke="#111" stroke-width="0.18">2.5</text>
<text x="554.2" y="214.2" font-size="8.8" fill="#111" text-anchor="middle" stroke="#111" stroke-width="0.18">Energy</text>
<text transform="translate(430.2 171.8) rotate(-90)" font-size="9.2" text-anchor="middle" fill="#111" stroke="#111" stroke-width="0.18">DOS</text>
<text x="447.4" y="155.2" font-size="8.45" fill="#111" stroke="#111" stroke-width="0.18">Band 1</text>
<text x="478.2" y="149.8" font-size="8.45" fill="#111" stroke="#111" stroke-width="0.18">Bands 2 and 3</text>
<text x="573.6" y="149.8" font-size="8.45" fill="#111" stroke="#111" stroke-width="0.18">Bands 4 and 5</text>
<text x="639.4" y="155.2" font-size="8.45" fill="#111" stroke="#111" stroke-width="0.18">Band 6</text>
<text x="526.6" y="178.6" font-size="8.45" fill="#111" stroke="#111" stroke-width="0.18">No bound state</text>
<text x="554.9" y="229.6" font-size="9.9" fill="#2f6fb3" text-anchor="middle" stroke="#2f6fb3" stroke-width="0.12">Trivial</text>
<g stroke="#fff" stroke-width="0.6" stroke-linejoin="round">
<polygon points="167.78,365.04 159.57,362.36 151.82,368.96 152.16,378.12 160.56,380.97 168.42,374.47" fill="#9ed9c6"/>
<polygon points="173.91,348.42 165.79,345.78 158.78,352.83 159.57,362.36 167.78,365.04 175.08,358.13" fill="#9ed9c6"/>
<polygon points="178.72,331.38 170.5,328.72 164.26,335.96 165.79,345.78 173.91,348.42 180.56,341.25" fill="#9ed9c6"/>
<polygon points="182.24,314.24 173.77,311.61 168.11,318.83 170.5,328.72 178.72,331.38 184.78,324.13" fill="#9ed9c6"/>
<polygon points="158.78,352.83 150.62,350.17 143.06,356.92 143.45,366.13 151.82,368.96 159.57,362.36" fill="#dcdcdc"/>
<polygon points="164.26,335.96 156.09,333.31 149.53,340.5 150.62,350.17 158.78,352.83 165.79,345.78" fill="#dcdcdc"/>
<polygon points="168.11,318.83 159.67,316.19 153.95,323.42 156.09,333.31 164.26,335.96 170.5,328.72" fill="#dcdcdc"/>
<polygon points="149.53,340.5 141.41,337.86 134.24,344.83 134.73,354.14 143.06,356.92 150.62,350.17" fill="#dcdcdc"/>
<polygon points="153.95,323.42 145.57,320.77 139.7,328.01 141.41,337.86 149.53,340.5 156.09,333.31" fill="#dcdcdc"/>
<polygon points="139.7,328.01 131.42,325.36 125.15,332.58 125.98,342.11 134.24,344.83 141.41,337.86" fill="#dcdcdc"/>
<polygon points="131.42,325.36 128.26,315.63 118.94,313.47 113.92,320.39 117.03,329.94 125.15,332.58" fill="#fdb365"/>
<polygon points="145.57,320.77 142.4,311.03 133.4,308.62 128.26,315.63 131.42,325.36 139.7,328.01" fill="#dcdcdc"/>
<polygon points="159.67,316.19 156.51,306.44 147.63,303.96 142.4,311.03 145.57,320.77 153.95,323.42" fill="#dcdcdc"/>
<polygon points="173.77,311.61 170.6,301.86 161.78,299.35 156.51,306.44 159.67,316.19 168.11,318.83" fill="#dcdcdc"/>
<polygon points="187.85,307.04 184.69,297.29 175.91,294.76 170.6,301.86 173.77,311.61 182.24,314.24" fill="#62b8fd"/>
<polygon points="65.98,368.96 58.23,362.36 50.02,365.04 49.38,374.47 57.24,380.97 65.64,378.12" fill="#9ed9c6"/>
<polygon points="74.74,356.92 67.18,350.17 59.02,352.83 58.23,362.36 65.98,368.96 74.35,366.13" fill="#dcdcdc"/>
<polygon points="83.56,344.83 76.39,337.86 68.27,340.5 67.18,350.17 74.74,356.92 83.07,354.14" fill="#dcdcdc"/>
<polygon points="92.65,332.58 86.38,325.36 78.1,328.01 76.39,337.86 83.56,344.83 91.82,342.11" fill="#dcdcdc"/>
<polygon points="103.88,320.39 98.86,313.47 89.54,315.63 86.38,325.36 92.65,332.58 100.77,329.94" fill="#fdb365"/>
<polygon points="118.94,313.47 114.01,305.28 103.79,305.28 98.86,313.47 103.88,320.39 113.92,320.39" fill="#fdb365"/>
<polygon points="133.4,308.62 128.99,299.65 119.09,298.23 114.01,305.28 118.94,313.47 128.26,315.63" fill="#dcdcdc"/>
<polygon points="147.63,303.96 143.55,294.69 134.01,292.74 128.99,299.65 133.4,308.62 142.4,311.03" fill="#dcdcdc"/>
<polygon points="161.78,299.35 157.9,289.94 148.59,287.75 143.55,294.69 147.63,303.96 156.51,306.44" fill="#dcdcdc"/>
<polygon points="175.91,294.76 172.16,285.27 162.99,282.96 157.9,289.94 161.78,299.35 170.6,301.86" fill="#9ed9c6"/>
<polygon points="59.02,352.83 52.01,345.78 43.89,348.42 42.72,358.13 50.02,365.04 58.23,362.36" fill="#9ed9c6"/>
<polygon points="68.27,340.5 61.71,333.31 53.54,335.96 52.01,345.78 59.02,352.83 67.18,350.17" fill="#dcdcdc"/>
<polygon points="78.1,328.01 72.23,320.77 63.85,323.42 61.71,333.31 68.27,340.5 76.39,337.86" fill="#dcdcdc"/>
<polygon points="89.54,315.63 84.4,308.62 75.4,311.03 72.23,320.77 78.1,328.01 86.38,325.36" fill="#dcdcdc"/>
<polygon points="103.79,305.28 98.71,298.23 88.81,299.65 84.4,308.62 89.54,315.63 98.86,313.47" fill="#dcdcdc"/>
<polygon points="119.09,298.23 114.02,290.41 103.78,290.41 98.71,298.23 103.79,305.28 114.01,305.28" fill="#dcdcdc"/>
<polygon points="134.01,292.74 129.2,284.27 119.13,283.26 114.02,290.41 119.09,298.23 128.99,299.65" fill="#dcdcdc"/>
<polygon points="148.59,287.75 144.06,278.91 134.24,277.33 129.2,284.27 134.01,292.74 143.55,294.69" fill="#dcdcdc"/>
<polygon points="162.99,282.96 158.67,273.89 149.08,272 144.06,278.91 148.59,287.75 157.9,289.94" fill="#9ed9c6"/>
<polygon points="53.54,335.96 47.3,328.72 39.08,331.38 37.24,341.25 43.89,348.42 52.01,345.78" fill="#9ed9c6"/>
<polygon points="63.85,323.42 58.13,316.19 49.69,318.83 47.3,328.72 53.54,335.96 61.71,333.31" fill="#dcdcdc"/>
<polygon points="75.4,311.03 70.17,303.96 61.29,306.44 58.13,316.19 63.85,323.42 72.23,320.77" fill="#dcdcdc"/>
<polygon points="88.81,299.65 83.79,292.74 74.25,294.69 70.17,303.96 75.4,311.03 84.4,308.62" fill="#dcdcdc"/>
<polygon points="103.78,290.41 98.67,283.26 88.6,284.27 83.79,292.74 88.81,299.65 98.71,298.23" fill="#dcdcdc"/>
<polygon points="119.13,283.26 114.02,275.58 103.78,275.58 98.67,283.26 103.78,290.41 114.02,290.41" fill="#dcdcdc"/>
<polygon points="134.24,277.33 129.29,269.15 119.14,268.37 114.02,275.58 119.13,283.26 129.2,284.27" fill="#dcdcdc"/>
<polygon points="149.08,272 144.32,263.46 134.35,262.15 129.29,269.15 134.24,277.33 144.06,278.91" fill="#9ed9c6"/>
<polygon points="49.69,318.83 44.03,311.61 35.56,314.24 33.02,324.13 39.08,331.38 47.3,328.72" fill="#9ed9c6"/>
<polygon points="61.29,306.44 56.02,299.35 47.2,301.86 44.03,311.61 49.69,318.83 58.13,316.19" fill="#dcdcdc"/>
<polygon points="74.25,294.69 69.21,287.75 59.9,289.94 56.02,299.35 61.29,306.44 70.17,303.96" fill="#dcdcdc"/>
<polygon points="88.6,284.27 83.56,277.33 73.74,278.91 69.21,287.75 74.25,294.69 83.79,292.74" fill="#dcdcdc"/>
<polygon points="103.78,275.58 98.66,268.37 88.51,269.15 83.56,277.33 88.6,284.27 98.67,283.26" fill="#dcdcdc"/>
<polygon points="119.14,268.37 114.03,260.76 103.77,260.76 98.66,268.37 103.78,275.58 114.02,275.58" fill="#dcdcdc"/>
<polygon points="134.35,262.15 129.33,254.15 119.14,253.52 114.03,260.76 119.14,268.37 129.29,269.15" fill="#9ed9c6"/>
<polygon points="47.2,301.86 41.89,294.76 33.11,297.29 29.95,307.04 35.56,314.24 44.03,311.61" fill="#62b8fd"/>
<polygon points="59.9,289.94 54.81,282.96 45.64,285.27 41.89,294.76 47.2,301.86 56.02,299.35" fill="#9ed9c6"/>
<polygon points="73.74,278.91 68.72,272 59.13,273.89 54.81,282.96 59.9,289.94 69.21,287.75" fill="#9ed9c6"/>
<polygon points="88.51,269.15 83.45,262.15 73.48,263.46 68.72,272 73.74,278.91 83.56,277.33" fill="#9ed9c6"/>
<polygon points="103.77,260.76 98.66,253.52 88.47,254.15 83.45,262.15 88.51,269.15 98.66,268.37" fill="#9ed9c6"/>
<polygon points="119.14,253.52 114.03,245.95 103.77,245.95 98.66,253.52 103.77,260.76 114.03,260.76" fill="#62b8fd"/>
</g>
<g fill="#c4127f">
<circle cx="156.36" cy="379.55" r="1.9"/>
<circle cx="148.01" cy="381.13" r="1.9"/>
<circle cx="143.92" cy="388.58" r="1.9"/>
<circle cx="163.68" cy="363.7" r="1.9"/>
<circle cx="155.7" cy="365.66" r="1.9"/>
<circle cx="151.99" cy="373.54" r="1.9"/>
<circle cx="169.85" cy="347.1" r="1.9"/>
<circle cx="162.28" cy="349.31" r="1.9"/>
<circle cx="159.17" cy="357.59" r="1.9"/>
<circle cx="174.61" cy="330.05" r="1.9"/>
<circle cx="167.38" cy="332.34" r="1.9"/>
<circle cx="165.02" cy="340.87" r="1.9"/>
<circle cx="178" cy="312.93" r="1.9"/>
<circle cx="170.94" cy="315.22" r="1.9"/>
<circle cx="169.31" cy="323.77" r="1.9"/>
<circle cx="139.56" cy="382.57" r="1.9"/>
<circle cx="130.92" cy="383.66" r="1.9"/>
<circle cx="126.59" cy="390.65" r="1.9"/>
<circle cx="147.63" cy="367.55" r="1.9"/>
<circle cx="139.3" cy="369.14" r="1.9"/>
<circle cx="135.21" cy="376.58" r="1.9"/>
<circle cx="154.7" cy="351.5" r="1.9"/>
<circle cx="146.84" cy="353.55" r="1.9"/>
<circle cx="143.25" cy="361.53" r="1.9"/>
<circle cx="160.18" cy="334.64" r="1.9"/>
<circle cx="152.81" cy="336.91" r="1.9"/>
<circle cx="150.07" cy="345.34" r="1.9"/>
<circle cx="163.89" cy="317.51" r="1.9"/>
<circle cx="156.81" cy="319.8" r="1.9"/>
<circle cx="155.02" cy="328.36" r="1.9"/>
<circle cx="122.18" cy="384.48" r="1.9"/>
<circle cx="113.33" cy="384.87" r="1.9"/>
<circle cx="108.9" cy="391.39" r="1.9"/>
<circle cx="130.84" cy="370.55" r="1.9"/>
<circle cx="122.14" cy="371.49" r="1.9"/>
<circle cx="117.77" cy="378.33" r="1.9"/>
<circle cx="138.89" cy="355.53" r="1.9"/>
<circle cx="130.58" cy="357.15" r="1.9"/>
<circle cx="126.48" cy="364.55" r="1.9"/>
<circle cx="145.47" cy="339.18" r="1.9"/>
<circle cx="137.82" cy="341.35" r="1.9"/>
<circle cx="134.48" cy="349.48" r="1.9"/>
<circle cx="149.76" cy="322.09" r="1.9"/>
<circle cx="142.63" cy="324.39" r="1.9"/>
<circle cx="140.55" cy="332.94" r="1.9"/>
<circle cx="104.47" cy="384.87" r="1.9"/>
<circle cx="95.62" cy="384.48" r="1.9"/>
<circle cx="91.21" cy="390.65" r="1.9"/>
<circle cx="113.33" cy="372.03" r="1.9"/>
<circle cx="104.47" cy="372.03" r="1.9"/>
<circle cx="100.03" cy="378.33" r="1.9"/>
<circle cx="122.09" cy="358.48" r="1.9"/>
<circle cx="113.32" cy="359.15" r="1.9"/>
<circle cx="108.9" cy="365.75" r="1.9"/>
<circle cx="130.11" cy="343.47" r="1.9"/>
<circle cx="121.84" cy="345.12" r="1.9"/>
<circle cx="117.72" cy="352.47" r="1.9"/>
<circle cx="135.56" cy="326.68" r="1.9"/>
<circle cx="128.29" cy="328.97" r="1.9"/>
<circle cx="125.57" cy="337.35" r="1.9"/>
<circle cx="86.88" cy="383.66" r="1.9"/>
<circle cx="78.24" cy="382.57" r="1.9"/>
<circle cx="73.88" cy="388.58" r="1.9"/>
<circle cx="95.66" cy="371.49" r="1.9"/>
<circle cx="86.96" cy="370.55" r="1.9"/>
<circle cx="82.59" cy="376.58" r="1.9"/>
<circle cx="104.48" cy="359.15" r="1.9"/>
<circle cx="95.71" cy="358.48" r="1.9"/>
<circle cx="91.32" cy="364.55" r="1.9"/>
<circle cx="113.3" cy="346.26" r="1.9"/>
<circle cx="104.5" cy="346.26" r="1.9"/>
<circle cx="100.08" cy="352.47" r="1.9"/>
<circle cx="121.09" cy="331.26" r="1.9"/>
<circle cx="108.9" cy="340.12" r="1.9"/>
<circle cx="69.79" cy="381.13" r="1.9"/>
<circle cx="61.44" cy="379.55" r="1.9"/>
<circle cx="78.5" cy="369.14" r="1.9"/>
<circle cx="70.17" cy="367.55" r="1.9"/>
<circle cx="65.81" cy="373.54" r="1.9"/>
<circle cx="87.22" cy="357.15" r="1.9"/>
<circle cx="78.91" cy="355.53" r="1.9"/>
<circle cx="74.55" cy="361.53" r="1.9"/>
<circle cx="95.96" cy="345.12" r="1.9"/>
<circle cx="87.69" cy="343.47" r="1.9"/>
<circle cx="83.32" cy="349.48" r="1.9"/>
<circle cx="96.71" cy="331.26" r="1.9"/>
<circle cx="92.23" cy="337.35" r="1.9"/>
<circle cx="129.84" cy="320.49" r="1.9"/>
<circle cx="123.6" cy="314.55" r="1.9"/>
<circle cx="116.43" cy="316.93" r="1.9"/>
<circle cx="143.99" cy="315.9" r="1.9"/>
<circle cx="137.9" cy="309.82" r="1.9"/>
<circle cx="130.83" cy="312.13" r="1.9"/>
<circle cx="158.09" cy="311.32" r="1.9"/>
<circle cx="152.07" cy="305.2" r="1.9"/>
<circle cx="145.02" cy="307.5" r="1.9"/>
<circle cx="172.18" cy="306.74" r="1.9"/>
<circle cx="166.19" cy="300.61" r="1.9"/>
<circle cx="159.15" cy="302.9" r="1.9"/>
<circle cx="173.25" cy="298.31" r="1.9"/>
<circle cx="62.1" cy="365.66" r="1.9"/>
<circle cx="54.12" cy="363.7" r="1.9"/>
<circle cx="70.96" cy="353.55" r="1.9"/>
<circle cx="63.1" cy="351.5" r="1.9"/>
<circle cx="58.63" cy="357.59" r="1.9"/>
<circle cx="79.98" cy="341.35" r="1.9"/>
<circle cx="72.33" cy="339.18" r="1.9"/>
<circle cx="67.73" cy="345.34" r="1.9"/>
<circle cx="89.51" cy="328.97" r="1.9"/>
<circle cx="82.24" cy="326.68" r="1.9"/>
<circle cx="77.25" cy="332.94" r="1.9"/>
<circle cx="101.37" cy="316.93" r="1.9"/>
<circle cx="94.2" cy="314.55" r="1.9"/>
<circle cx="87.96" cy="320.49" r="1.9"/>
<circle cx="116.48" cy="309.38" r="1.9"/>
<circle cx="108.9" cy="305.28" r="1.9"/>
<circle cx="101.32" cy="309.38" r="1.9"/>
<circle cx="131.2" cy="304.13" r="1.9"/>
<circle cx="124.04" cy="298.94" r="1.9"/>
<circle cx="116.55" cy="301.75" r="1.9"/>
<circle cx="145.59" cy="299.33" r="1.9"/>
<circle cx="138.78" cy="293.72" r="1.9"/>
<circle cx="131.5" cy="296.19" r="1.9"/>
<circle cx="159.84" cy="294.65" r="1.9"/>
<circle cx="153.25" cy="288.85" r="1.9"/>
<circle cx="146.07" cy="291.22" r="1.9"/>
<circle cx="160.45" cy="286.45" r="1.9"/>
<circle cx="55.52" cy="349.31" r="1.9"/>
<circle cx="47.95" cy="347.1" r="1.9"/>
<circle cx="64.99" cy="336.91" r="1.9"/>
<circle cx="57.62" cy="334.64" r="1.9"/>
<circle cx="52.78" cy="340.87" r="1.9"/>
<circle cx="75.17" cy="324.39" r="1.9"/>
<circle cx="68.04" cy="322.09" r="1.9"/>
<circle cx="62.78" cy="328.36" r="1.9"/>
<circle cx="86.97" cy="312.13" r="1.9"/>
<circle cx="79.9" cy="309.82" r="1.9"/>
<circle cx="73.81" cy="315.9" r="1.9"/>
<circle cx="101.25" cy="301.75" r="1.9"/>
<circle cx="93.76" cy="298.94" r="1.9"/>
<circle cx="86.6" cy="304.13" r="1.9"/>
<circle cx="116.56" cy="294.32" r="1.9"/>
<circle cx="108.9" cy="290.41" r="1.9"/>
<circle cx="101.24" cy="294.32" r="1.9"/>
<circle cx="131.61" cy="288.51" r="1.9"/>
<circle cx="124.16" cy="283.77" r="1.9"/>
<circle cx="116.57" cy="286.83" r="1.9"/>
<circle cx="146.33" cy="283.33" r="1.9"/>
<circle cx="139.15" cy="278.12" r="1.9"/>
<circle cx="131.72" cy="280.8" r="1.9"/>
<circle cx="146.57" cy="275.45" r="1.9"/>
<circle cx="50.42" cy="332.34" r="1.9"/>
<circle cx="43.19" cy="330.05" r="1.9"/>
<circle cx="60.99" cy="319.8" r="1.9"/>
<circle cx="53.91" cy="317.51" r="1.9"/>
<circle cx="48.49" cy="323.77" r="1.9"/>
<circle cx="72.78" cy="307.5" r="1.9"/>
<circle cx="65.73" cy="305.2" r="1.9"/>
<circle cx="59.71" cy="311.32" r="1.9"/>
<circle cx="86.3" cy="296.19" r="1.9"/>
<circle cx="79.02" cy="293.72" r="1.9"/>
<circle cx="72.21" cy="299.33" r="1.9"/>
<circle cx="101.23" cy="286.83" r="1.9"/>
<circle cx="93.64" cy="283.77" r="1.9"/>
<circle cx="86.19" cy="288.51" r="1.9"/>
<circle cx="116.58" cy="279.42" r="1.9"/>
<circle cx="108.9" cy="275.58" r="1.9"/>
<circle cx="101.22" cy="279.42" r="1.9"/>
<circle cx="131.77" cy="273.24" r="1.9"/>
<circle cx="124.21" cy="268.76" r="1.9"/>
<circle cx="116.58" cy="271.97" r="1.9"/>
<circle cx="131.82" cy="265.65" r="1.9"/>
<circle cx="46.86" cy="315.22" r="1.9"/>
<circle cx="39.8" cy="312.93" r="1.9"/>
<circle cx="58.65" cy="302.9" r="1.9"/>
<circle cx="51.61" cy="300.61" r="1.9"/>
<circle cx="45.62" cy="306.74" r="1.9"/>
<circle cx="71.73" cy="291.22" r="1.9"/>
<circle cx="64.55" cy="288.85" r="1.9"/>
<circle cx="57.96" cy="294.65" r="1.9"/>
<circle cx="86.08" cy="280.8" r="1.9"/>
<circle cx="78.65" cy="278.12" r="1.9"/>
<circle cx="71.47" cy="283.33" r="1.9"/>
<circle cx="101.22" cy="271.97" r="1.9"/>
<circle cx="93.59" cy="268.76" r="1.9"/>
<circle cx="86.03" cy="273.24" r="1.9"/>
<circle cx="116.58" cy="264.56" r="1.9"/>
<circle cx="108.9" cy="260.76" r="1.9"/>
<circle cx="101.22" cy="264.56" r="1.9"/>
<circle cx="116.58" cy="257.14" r="1.9"/>
<circle cx="44.55" cy="298.31" r="1.9"/>
<circle cx="57.35" cy="286.45" r="1.9"/>
<circle cx="71.23" cy="275.45" r="1.9"/>
<circle cx="85.98" cy="265.65" r="1.9"/>
<circle cx="101.22" cy="257.14" r="1.9"/>
</g>
<circle cx="108.8" cy="324.8" r="24" fill="none" stroke="#111" stroke-width="0.85" stroke-dasharray="2.8 1.7"/>
<line x1="102.93" y1="301.53" x2="253.6" y2="263.51" stroke="#111" stroke-width="0.7" stroke-dasharray="3.8 2.2"/>
<line x1="102.09" y1="347.84" x2="251.3" y2="391.26" stroke="#111" stroke-width="0.7" stroke-dasharray="3.8 2.2"/>
<g stroke="#fff" stroke-width="0.6" stroke-linejoin="round">
<polygon points="160.56,380.97 152.16,378.12 143.86,384.14 143.98,393.01 152.57,396.13 160.86,390.1" fill="#62b8fd"/>
<polygon points="143.86,384.14 135.26,380.99 126.58,386.33 126.6,394.97 135.37,398.49 143.98,393.01" fill="#9ed9c6"/>
<polygon points="151.82,368.96 143.45,366.13 135.16,372.16 135.26,380.99 143.86,384.14 152.16,378.12" fill="#dcdcdc"/>
<polygon points="126.58,386.33 117.77,382.63 108.9,387.11 108.9,395.66 117.77,399.77 126.6,394.97" fill="#9ed9c6"/>
<polygon points="135.16,372.16 126.51,368.94 117.76,374.04 117.77,382.63 126.58,386.33 135.26,380.99" fill="#dcdcdc"/>
<polygon points="143.06,356.92 134.73,354.14 126.44,360.16 126.51,368.94 135.16,372.16 143.45,366.13" fill="#dcdcdc"/>
<polygon points="108.9,387.11 100.03,382.63 91.22,386.33 91.2,394.97 100.03,399.77 108.9,395.66" fill="#9ed9c6"/>
<polygon points="117.76,374.04 108.9,370.02 100.04,374.04 100.03,382.63 108.9,387.11 117.77,382.63" fill="#dcdcdc"/>
<polygon points="126.44,360.16 117.74,356.81 108.9,361.48 108.9,370.02 117.76,374.04 126.51,368.94" fill="#dcdcdc"/>
<polygon points="134.24,344.83 125.98,342.11 117.71,348.12 117.74,356.81 126.44,360.16 134.73,354.14" fill="#dcdcdc"/>
<polygon points="91.22,386.33 82.54,380.99 73.94,384.14 73.82,393.01 82.43,398.49 91.2,394.97" fill="#9ed9c6"/>
<polygon points="100.04,374.04 91.29,368.94 82.64,372.16 82.54,380.99 91.22,386.33 100.03,382.63" fill="#dcdcdc"/>
<polygon points="108.9,361.48 100.06,356.81 91.36,360.16 91.29,368.94 100.04,374.04 108.9,370.02" fill="#dcdcdc"/>
<polygon points="117.71,348.12 108.9,344.39 100.09,348.12 100.06,356.81 108.9,361.48 117.74,356.81" fill="#dcdcdc"/>
<polygon points="125.15,332.58 117.03,329.94 108.9,335.84 108.9,344.39 117.71,348.12 125.98,342.11" fill="#fdb365"/>
<polygon points="73.94,384.14 65.64,378.12 57.24,380.97 56.94,390.1 65.23,396.13 73.82,393.01" fill="#62b8fd"/>
<polygon points="82.64,372.16 74.35,366.13 65.98,368.96 65.64,378.12 73.94,384.14 82.54,380.99" fill="#dcdcdc"/>
<polygon points="91.36,360.16 83.07,354.14 74.74,356.92 74.35,366.13 82.64,372.16 91.29,368.94" fill="#dcdcdc"/>
<polygon points="100.09,348.12 91.82,342.11 83.56,344.83 83.07,354.14 91.36,360.16 100.06,356.81" fill="#dcdcdc"/>
<polygon points="108.9,335.84 100.77,329.94 92.65,332.58 91.82,342.11 100.09,348.12 108.9,344.39" fill="#fdb365"/>
</g>
<g font-size="7.9" fill="#1a1a1a" stroke="#1a1a1a" stroke-width="0.18" text-anchor="middle">
<text x="152.4" y="389.97">1.5</text>
<text x="135.32" y="392.56">2.0</text>
<text x="143.7" y="377.99">3.0</text>
<text x="117.77" y="394">2.0</text>
<text x="126.56" y="380.46">3.0</text>
<text x="135" y="366.02">3.0</text>
<text x="100.03" y="394">2.0</text>
<text x="108.9" y="381.37">3.0</text>
<text x="117.76" y="368.24">3.0</text>
<text x="126.3" y="354.05">3.0</text>
<text x="82.48" y="392.56">2.0</text>
<text x="91.24" y="380.46">3.0</text>
<text x="100.04" y="368.24">3.0</text>
<text x="108.9" y="355.73">3.0</text>
<text x="117.6" y="342.07">2.5</text>
<text x="65.4" y="389.97">1.5</text>
<text x="74.1" y="377.99">3.0</text>
<text x="82.8" y="366.02">3.0</text>
<text x="91.5" y="354.05">3.0</text>
<text x="100.2" y="342.07">2.5</text>
</g>
<g stroke="#fff" stroke-width="0.6" stroke-linejoin="round">
<polygon points="615.48,364.14 607.27,361.46 599.52,368.06 599.86,377.22 608.26,380.07 616.12,373.57" fill="#9ed9c6"/>
<polygon points="621.61,347.52 613.49,344.88 606.48,351.93 607.27,361.46 615.48,364.14 622.78,357.23" fill="#9ed9c6"/>
<polygon points="626.42,330.48 618.2,327.82 611.96,335.06 613.49,344.88 621.61,347.52 628.26,340.35" fill="#9ed9c6"/>
<polygon points="629.94,313.34 621.47,310.71 615.81,317.93 618.2,327.82 626.42,330.48 632.48,323.23" fill="#9ed9c6"/>
<polygon points="606.48,351.93 598.32,349.27 590.76,356.02 591.15,365.23 599.52,368.06 607.27,361.46" fill="#dcdcdc"/>
<polygon points="611.96,335.06 603.79,332.41 597.23,339.6 598.32,349.27 606.48,351.93 613.49,344.88" fill="#dcdcdc"/>
<polygon points="615.81,317.93 607.37,315.29 601.65,322.52 603.79,332.41 611.96,335.06 618.2,327.82" fill="#dcdcdc"/>
<polygon points="597.23,339.6 589.11,336.96 581.94,343.93 582.43,353.24 590.76,356.02 598.32,349.27" fill="#dcdcdc"/>
<polygon points="601.65,322.52 593.27,319.87 587.4,327.11 589.11,336.96 597.23,339.6 603.79,332.41" fill="#dcdcdc"/>
<polygon points="587.4,327.11 579.12,324.46 572.85,331.68 573.68,341.21 581.94,343.93 589.11,336.96" fill="#dcdcdc"/>
<polygon points="579.12,324.46 575.96,314.73 566.64,312.57 561.62,319.49 564.73,329.04 572.85,331.68" fill="#fdb365"/>
<polygon points="593.27,319.87 590.1,310.13 581.1,307.72 575.96,314.73 579.12,324.46 587.4,327.11" fill="#dcdcdc"/>
<polygon points="607.37,315.29 604.21,305.54 595.33,303.06 590.1,310.13 593.27,319.87 601.65,322.52" fill="#dcdcdc"/>
<polygon points="621.47,310.71 618.3,300.96 609.48,298.45 604.21,305.54 607.37,315.29 615.81,317.93" fill="#dcdcdc"/>
<polygon points="635.55,306.14 632.39,296.39 623.61,293.86 618.3,300.96 621.47,310.71 629.94,313.34" fill="#62b8fd"/>
<polygon points="513.68,368.06 505.93,361.46 497.72,364.14 497.08,373.57 504.94,380.07 513.34,377.22" fill="#9ed9c6"/>
<polygon points="522.44,356.02 514.88,349.27 506.72,351.93 505.93,361.46 513.68,368.06 522.05,365.23" fill="#dcdcdc"/>
<polygon points="531.26,343.93 524.09,336.96 515.97,339.6 514.88,349.27 522.44,356.02 530.77,353.24" fill="#dcdcdc"/>
<polygon points="540.35,331.68 534.08,324.46 525.8,327.11 524.09,336.96 531.26,343.93 539.52,341.21" fill="#dcdcdc"/>
<polygon points="551.58,319.49 546.56,312.57 537.24,314.73 534.08,324.46 540.35,331.68 548.47,329.04" fill="#fdb365"/>
<polygon points="566.64,312.57 561.71,304.38 551.49,304.38 546.56,312.57 551.58,319.49 561.62,319.49" fill="#fdb365"/>
<polygon points="581.1,307.72 576.69,298.75 566.79,297.33 561.71,304.38 566.64,312.57 575.96,314.73" fill="#dcdcdc"/>
<polygon points="595.33,303.06 591.25,293.79 581.71,291.84 576.69,298.75 581.1,307.72 590.1,310.13" fill="#dcdcdc"/>
<polygon points="609.48,298.45 605.6,289.04 596.29,286.85 591.25,293.79 595.33,303.06 604.21,305.54" fill="#dcdcdc"/>
<polygon points="623.61,293.86 619.86,284.37 610.69,282.06 605.6,289.04 609.48,298.45 618.3,300.96" fill="#9ed9c6"/>
<polygon points="506.72,351.93 499.71,344.88 491.59,347.52 490.42,357.23 497.72,364.14 505.93,361.46" fill="#9ed9c6"/>
<polygon points="515.97,339.6 509.41,332.41 501.24,335.06 499.71,344.88 506.72,351.93 514.88,349.27" fill="#dcdcdc"/>
<polygon points="525.8,327.11 519.93,319.87 511.55,322.52 509.41,332.41 515.97,339.6 524.09,336.96" fill="#dcdcdc"/>
<polygon points="537.24,314.73 532.1,307.72 523.1,310.13 519.93,319.87 525.8,327.11 534.08,324.46" fill="#dcdcdc"/>
<polygon points="551.49,304.38 546.41,297.33 536.51,298.75 532.1,307.72 537.24,314.73 546.56,312.57" fill="#dcdcdc"/>
<polygon points="566.79,297.33 561.72,289.51 551.48,289.51 546.41,297.33 551.49,304.38 561.71,304.38" fill="#dcdcdc"/>
<polygon points="581.71,291.84 576.9,283.37 566.83,282.36 561.72,289.51 566.79,297.33 576.69,298.75" fill="#dcdcdc"/>
<polygon points="596.29,286.85 591.76,278.01 581.94,276.43 576.9,283.37 581.71,291.84 591.25,293.79" fill="#dcdcdc"/>
<polygon points="610.69,282.06 606.37,272.99 596.78,271.1 591.76,278.01 596.29,286.85 605.6,289.04" fill="#9ed9c6"/>
<polygon points="501.24,335.06 495,327.82 486.78,330.48 484.94,340.35 491.59,347.52 499.71,344.88" fill="#9ed9c6"/>
<polygon points="511.55,322.52 505.83,315.29 497.39,317.93 495,327.82 501.24,335.06 509.41,332.41" fill="#dcdcdc"/>
<polygon points="523.1,310.13 517.87,303.06 508.99,305.54 505.83,315.29 511.55,322.52 519.93,319.87" fill="#dcdcdc"/>
<polygon points="536.51,298.75 531.49,291.84 521.95,293.79 517.87,303.06 523.1,310.13 532.1,307.72" fill="#dcdcdc"/>
<polygon points="551.48,289.51 546.37,282.36 536.3,283.37 531.49,291.84 536.51,298.75 546.41,297.33" fill="#dcdcdc"/>
<polygon points="566.83,282.36 561.72,274.68 551.48,274.68 546.37,282.36 551.48,289.51 561.72,289.51" fill="#dcdcdc"/>
<polygon points="581.94,276.43 576.99,268.25 566.84,267.47 561.72,274.68 566.83,282.36 576.9,283.37" fill="#dcdcdc"/>
<polygon points="596.78,271.1 592.02,262.56 582.05,261.25 576.99,268.25 581.94,276.43 591.76,278.01" fill="#9ed9c6"/>
<polygon points="497.39,317.93 491.73,310.71 483.26,313.34 480.72,323.23 486.78,330.48 495,327.82" fill="#9ed9c6"/>
<polygon points="508.99,305.54 503.72,298.45 494.9,300.96 491.73,310.71 497.39,317.93 505.83,315.29" fill="#dcdcdc"/>
<polygon points="521.95,293.79 516.91,286.85 507.6,289.04 503.72,298.45 508.99,305.54 517.87,303.06" fill="#dcdcdc"/>
<polygon points="536.3,283.37 531.26,276.43 521.44,278.01 516.91,286.85 521.95,293.79 531.49,291.84" fill="#dcdcdc"/>
<polygon points="551.48,274.68 546.36,267.47 536.21,268.25 531.26,276.43 536.3,283.37 546.37,282.36" fill="#dcdcdc"/>
<polygon points="566.84,267.47 561.73,259.86 551.47,259.86 546.36,267.47 551.48,274.68 561.72,274.68" fill="#dcdcdc"/>
<polygon points="582.05,261.25 577.03,253.25 566.84,252.62 561.73,259.86 566.84,267.47 576.99,268.25" fill="#9ed9c6"/>
<polygon points="494.9,300.96 489.59,293.86 480.81,296.39 477.65,306.14 483.26,313.34 491.73,310.71" fill="#62b8fd"/>
<polygon points="507.6,289.04 502.51,282.06 493.34,284.37 489.59,293.86 494.9,300.96 503.72,298.45" fill="#9ed9c6"/>
<polygon points="521.44,278.01 516.42,271.1 506.83,272.99 502.51,282.06 507.6,289.04 516.91,286.85" fill="#9ed9c6"/>
<polygon points="536.21,268.25 531.15,261.25 521.18,262.56 516.42,271.1 521.44,278.01 531.26,276.43" fill="#9ed9c6"/>
<polygon points="551.47,259.86 546.36,252.62 536.17,253.25 531.15,261.25 536.21,268.25 546.36,267.47" fill="#9ed9c6"/>
<polygon points="566.84,252.62 561.73,245.05 551.47,245.05 546.36,252.62 551.47,259.86 561.73,259.86" fill="#62b8fd"/>
</g>
<g fill="#c4127f">
<circle cx="607.84" cy="370.83" r="1.8"/>
<circle cx="614.63" cy="354.58" r="1.8"/>
<circle cx="620.11" cy="337.71" r="1.8"/>
<circle cx="624.17" cy="320.57" r="1.8"/>
<circle cx="599.04" cy="358.75" r="1.8"/>
<circle cx="605.36" cy="342.24" r="1.8"/>
<circle cx="609.95" cy="325.17" r="1.8"/>
<circle cx="590.14" cy="346.61" r="1.8"/>
<circle cx="595.61" cy="329.76" r="1.8"/>
<circle cx="580.98" cy="334.32" r="1.8"/>
<circle cx="570.68" cy="321.83" r="1.8"/>
<circle cx="584.75" cy="317.25" r="1.8"/>
<circle cx="598.83" cy="312.68" r="1.8"/>
<circle cx="612.9" cy="308.11" r="1.8"/>
<circle cx="626.98" cy="303.53" r="1.8"/>
<circle cx="505.36" cy="370.83" r="1.8"/>
<circle cx="514.16" cy="358.75" r="1.8"/>
<circle cx="523.06" cy="346.61" r="1.8"/>
<circle cx="532.22" cy="334.32" r="1.8"/>
<circle cx="542.52" cy="321.83" r="1.8"/>
<circle cx="556.6" cy="311.6" r="1.8"/>
<circle cx="571.67" cy="305.66" r="1.8"/>
<circle cx="586.18" cy="300.75" r="1.8"/>
<circle cx="600.48" cy="296.04" r="1.8"/>
<circle cx="614.69" cy="291.4" r="1.8"/>
<circle cx="498.57" cy="354.58" r="1.8"/>
<circle cx="507.84" cy="342.24" r="1.8"/>
<circle cx="517.59" cy="329.76" r="1.8"/>
<circle cx="528.45" cy="317.25" r="1.8"/>
<circle cx="541.53" cy="305.66" r="1.8"/>
<circle cx="556.6" cy="296.8" r="1.8"/>
<circle cx="571.85" cy="290.34" r="1.8"/>
<circle cx="586.73" cy="284.92" r="1.8"/>
<circle cx="601.34" cy="279.92" r="1.8"/>
<circle cx="493.09" cy="337.71" r="1.8"/>
<circle cx="503.25" cy="325.17" r="1.8"/>
<circle cx="514.37" cy="312.68" r="1.8"/>
<circle cx="527.02" cy="300.75" r="1.8"/>
<circle cx="541.35" cy="290.34" r="1.8"/>
<circle cx="556.6" cy="282" r="1.8"/>
<circle cx="571.91" cy="275.28" r="1.8"/>
<circle cx="586.98" cy="269.49" r="1.8"/>
<circle cx="489.03" cy="320.57" r="1.8"/>
<circle cx="500.3" cy="308.11" r="1.8"/>
<circle cx="512.72" cy="296.04" r="1.8"/>
<circle cx="526.47" cy="284.92" r="1.8"/>
<circle cx="541.29" cy="275.28" r="1.8"/>
<circle cx="556.6" cy="267.2" r="1.8"/>
<circle cx="571.94" cy="260.34" r="1.8"/>
<circle cx="486.22" cy="303.53" r="1.8"/>
<circle cx="498.51" cy="291.4" r="1.8"/>
<circle cx="511.86" cy="279.92" r="1.8"/>
<circle cx="526.22" cy="269.49" r="1.8"/>
<circle cx="541.26" cy="260.34" r="1.8"/>
<circle cx="556.6" cy="252.4" r="1.8"/>
</g>
<g stroke="#fff" stroke-width="0.6" stroke-linejoin="round">
<polygon points="608.26,380.07 599.86,377.22 591.56,383.24 591.68,392.11 600.27,395.23 608.56,389.2" fill="#62b8fd"/>
<polygon points="591.56,383.24 582.96,380.09 574.28,385.43 574.3,394.07 583.07,397.59 591.68,392.11" fill="#9ed9c6"/>
<polygon points="599.52,368.06 591.15,365.23 582.86,371.26 582.96,380.09 591.56,383.24 599.86,377.22" fill="#dcdcdc"/>
<polygon points="574.28,385.43 565.47,381.73 556.6,386.21 556.6,394.76 565.47,398.87 574.3,394.07" fill="#9ed9c6"/>
<polygon points="582.86,371.26 574.21,368.04 565.46,373.14 565.47,381.73 574.28,385.43 582.96,380.09" fill="#dcdcdc"/>
<polygon points="590.76,356.02 582.43,353.24 574.14,359.26 574.21,368.04 582.86,371.26 591.15,365.23" fill="#dcdcdc"/>
<polygon points="556.6,386.21 547.73,381.73 538.92,385.43 538.9,394.07 547.73,398.87 556.6,394.76" fill="#9ed9c6"/>
<polygon points="565.46,373.14 556.6,369.12 547.74,373.14 547.73,381.73 556.6,386.21 565.47,381.73" fill="#dcdcdc"/>
<polygon points="574.14,359.26 565.44,355.91 556.6,360.58 556.6,369.12 565.46,373.14 574.21,368.04" fill="#dcdcdc"/>
<polygon points="581.94,343.93 573.68,341.21 565.41,347.22 565.44,355.91 574.14,359.26 582.43,353.24" fill="#dcdcdc"/>
<polygon points="538.92,385.43 530.24,380.09 521.64,383.24 521.52,392.11 530.13,397.59 538.9,394.07" fill="#9ed9c6"/>
<polygon points="547.74,373.14 538.99,368.04 530.34,371.26 530.24,380.09 538.92,385.43 547.73,381.73" fill="#dcdcdc"/>
<polygon points="556.6,360.58 547.76,355.91 539.06,359.26 538.99,368.04 547.74,373.14 556.6,369.12" fill="#dcdcdc"/>
<polygon points="565.41,347.22 556.6,343.49 547.79,347.22 547.76,355.91 556.6,360.58 565.44,355.91" fill="#dcdcdc"/>
<polygon points="572.85,331.68 564.73,329.04 556.6,334.94 556.6,343.49 565.41,347.22 573.68,341.21" fill="#fdb365"/>
<polygon points="521.64,383.24 513.34,377.22 504.94,380.07 504.64,389.2 512.93,395.23 521.52,392.11" fill="#62b8fd"/>
<polygon points="530.34,371.26 522.05,365.23 513.68,368.06 513.34,377.22 521.64,383.24 530.24,380.09" fill="#dcdcdc"/>
<polygon points="539.06,359.26 530.77,353.24 522.44,356.02 522.05,365.23 530.34,371.26 538.99,368.04" fill="#dcdcdc"/>
<polygon points="547.79,347.22 539.52,341.21 531.26,343.93 530.77,353.24 539.06,359.26 547.76,355.91" fill="#dcdcdc"/>
<polygon points="556.6,334.94 548.47,329.04 540.35,331.68 539.52,341.21 547.79,347.22 556.6,343.49" fill="#fdb365"/>
</g>
<g font-size="7.9" fill="#1a1a1a" stroke="#1a1a1a" stroke-width="0.18" text-anchor="middle">
<text x="600.1" y="389.07">3.0</text>
<text x="583.02" y="391.66">3.0</text>
<text x="591.4" y="377.09">3.0</text>
<text x="565.47" y="393.1">3.0</text>
<text x="574.26" y="379.56">3.0</text>
<text x="582.7" y="365.12">3.0</text>
<text x="547.73" y="393.1">3.0</text>
<text x="556.6" y="380.47">3.0</text>
<text x="565.46" y="367.34">3.0</text>
<text x="574" y="353.15">3.0</text>
<text x="530.18" y="391.66">3.0</text>
<text x="538.94" y="379.56">3.0</text>
<text x="547.74" y="367.34">3.0</text>
<text x="556.6" y="354.83">3.0</text>
<text x="565.3" y="341.17">3.0</text>
<text x="513.1" y="389.07">3.0</text>
<text x="521.8" y="377.09">3.0</text>
<text x="530.5" y="365.12">3.0</text>
<text x="539.2" y="353.15">3.0</text>
<text x="547.9" y="341.17">3.0</text>
</g>
<circle cx="269.8" cy="327.7" r="66.2" fill="#fff"/>
<g clip-path="url(#insetclip)">
<g stroke="#fff" stroke-width="1.2" stroke-linejoin="round">
<polygon points="355.53,401.62 334.4,394.56 313.38,409.82 313.57,432.11 335.49,440.26 356.51,424.98" fill="#dedede"/>
<polygon points="371.94,359.98 351.34,353.29 333.15,370.95 334.4,394.56 355.53,401.62 374.69,384.51" fill="#dedede"/>
<polygon points="383.14,316.65 361.89,309.94 347.01,328.3 351.34,353.29 371.94,359.98 388.58,341.75" fill="#dedede"/>
<polygon points="313.38,409.82 291.32,401.34 268.9,413.18 268.9,434.85 291.38,445.04 313.57,432.11" fill="#dedede"/>
<polygon points="333.15,370.95 312.22,364.06 291.24,379.3 291.32,401.34 313.38,409.82 334.4,394.56" fill="#dedede"/>
<polygon points="347.01,328.3 326.02,321.58 310.12,339.89 312.22,364.06 333.15,370.95 351.34,353.29" fill="#dedede"/>
<polygon points="268.9,413.18 246.48,401.34 224.42,409.82 224.23,432.11 246.42,445.04 268.9,434.85" fill="#dedede"/>
<polygon points="291.24,379.3 268.9,369.84 246.56,379.3 246.48,401.34 268.9,413.18 291.32,401.34" fill="#dedede"/>
<polygon points="310.12,339.89 289.51,333.2 268.9,348.17 268.9,369.84 291.24,379.3 312.22,364.06" fill="#fdb365"/>
<polygon points="224.42,409.82 203.4,394.56 182.27,401.62 181.29,424.98 202.31,440.26 224.23,432.11" fill="#dedede"/>
<polygon points="246.56,379.3 225.58,364.06 204.65,370.95 203.4,394.56 224.42,409.82 246.48,401.34" fill="#dedede"/>
<polygon points="268.9,348.17 248.29,333.2 227.68,339.89 225.58,364.06 246.56,379.3 268.9,369.84" fill="#fdb365"/>
<polygon points="326.02,321.58 318.01,296.91 294.37,291.44 281.64,308.97 289.51,333.2 310.12,339.89" fill="#fdb365"/>
<polygon points="361.89,309.94 353.87,285.24 331.03,279.13 318.01,296.91 326.02,321.58 347.01,328.3" fill="#dedede"/>
<polygon points="397.66,298.33 389.63,273.61 367.11,267.32 353.87,285.24 361.89,309.94 383.14,316.65" fill="#dedede"/>
<polygon points="204.65,370.95 186.46,353.29 165.86,359.98 163.11,384.51 182.27,401.62 203.4,394.56" fill="#dedede"/>
<polygon points="227.68,339.89 211.78,321.58 190.79,328.3 186.46,353.29 204.65,370.95 225.58,364.06" fill="#dedede"/>
<polygon points="256.16,308.97 243.43,291.44 219.79,296.91 211.78,321.58 227.68,339.89 248.29,333.2" fill="#fdb365"/>
<polygon points="294.37,291.44 281.87,270.65 255.93,270.65 243.43,291.44 256.16,308.97 281.64,308.97" fill="#fdb365"/>
<polygon points="331.03,279.13 319.85,256.38 294.75,252.77 281.87,270.65 294.37,291.44 318.01,296.91" fill="#dedede"/>
<polygon points="367.11,267.32 356.76,243.81 332.59,238.84 319.85,256.38 331.03,279.13 353.87,285.24" fill="#dedede"/>
<polygon points="190.79,328.3 175.91,309.94 154.66,316.65 149.22,341.75 165.86,359.98 186.46,353.29" fill="#dedede"/>
<polygon points="219.79,296.91 206.77,279.13 183.93,285.24 175.91,309.94 190.79,328.3 211.78,321.58" fill="#dedede"/>
<polygon points="255.93,270.65 243.05,252.77 217.95,256.38 206.77,279.13 219.79,296.91 243.43,291.44" fill="#dedede"/>
<polygon points="294.75,252.77 281.89,232.94 255.91,232.94 243.05,252.77 255.93,270.65 281.87,270.65" fill="#dedede"/>
<polygon points="332.59,238.84 320.39,217.39 294.83,214.81 281.89,232.94 294.75,252.77 319.85,256.38" fill="#dedede"/>
<polygon points="183.93,285.24 170.69,267.32 148.17,273.61 140.14,298.33 154.66,316.65 175.91,309.94" fill="#dedede"/>
<polygon points="217.95,256.38 205.21,238.84 181.04,243.81 170.69,267.32 183.93,285.24 206.77,279.13" fill="#dedede"/>
<polygon points="255.91,232.94 242.97,214.81 217.41,217.39 205.21,238.84 217.95,256.38 243.05,252.77" fill="#dedede"/>
<polygon points="294.83,214.81 281.9,195.33 255.9,195.33 242.97,214.81 255.91,232.94 281.89,232.94" fill="#dedede"/>
</g>
<circle cx="344.97" cy="398.09" r="4.8" fill="#c4127f"/>
<circle cx="323.89" cy="402.19" r="4.8" fill="#c4127f"/>
<circle cx="313.48" cy="420.97" r="4.8" fill="#c4127f"/>
<circle cx="361.64" cy="356.63" r="4.8" fill="#c4127f"/>
<circle cx="342.24" cy="362.12" r="4.8" fill="#c4127f"/>
<circle cx="333.78" cy="382.75" r="4.8" fill="#c4127f"/>
<circle cx="372.52" cy="313.3" r="4.8" fill="#c4127f"/>
<circle cx="354.45" cy="319.12" r="4.8" fill="#c4127f"/>
<circle cx="349.17" cy="340.79" r="4.8" fill="#c4127f"/>
<circle cx="302.35" cy="405.58" r="4.8" fill="#c4127f"/>
<circle cx="280.11" cy="407.26" r="4.8" fill="#c4127f"/>
<circle cx="268.9" cy="424.01" r="4.8" fill="#c4127f"/>
<circle cx="322.68" cy="367.51" r="4.8" fill="#c4127f"/>
<circle cx="301.73" cy="371.68" r="4.8" fill="#c4127f"/>
<circle cx="291.28" cy="390.32" r="4.8" fill="#c4127f"/>
<circle cx="336.52" cy="324.94" r="4.8" fill="#c4127f"/>
<circle cx="318.07" cy="330.73" r="4.8" fill="#c4127f"/>
<circle cx="311.17" cy="351.98" r="4.8" fill="#c4127f"/>
<circle cx="257.69" cy="407.26" r="4.8" fill="#c4127f"/>
<circle cx="235.45" cy="405.58" r="4.8" fill="#c4127f"/>
<circle cx="224.32" cy="420.97" r="4.8" fill="#c4127f"/>
<circle cx="280.07" cy="374.57" r="4.8" fill="#c4127f"/>
<circle cx="257.73" cy="374.57" r="4.8" fill="#c4127f"/>
<circle cx="246.52" cy="390.32" r="4.8" fill="#c4127f"/>
<circle cx="299.81" cy="336.54" r="4.8" fill="#c4127f"/>
<circle cx="279.2" cy="340.68" r="4.6" fill="none" stroke="#111" stroke-width="0.6" stroke-dasharray="1.2 0.9"/>
<circle cx="268.9" cy="359" r="4.8" fill="#c4127f"/>
<circle cx="213.91" cy="402.19" r="4.8" fill="#c4127f"/>
<circle cx="192.83" cy="398.09" r="4.8" fill="#c4127f"/>
<circle cx="236.07" cy="371.68" r="4.8" fill="#c4127f"/>
<circle cx="215.12" cy="367.51" r="4.8" fill="#c4127f"/>
<circle cx="204.02" cy="382.75" r="4.8" fill="#c4127f"/>
<circle cx="258.6" cy="340.68" r="4.6" fill="none" stroke="#111" stroke-width="0.6" stroke-dasharray="1.2 0.9"/>
<circle cx="237.99" cy="336.54" r="4.8" fill="#c4127f"/>
<circle cx="226.63" cy="351.98" r="4.8" fill="#c4127f"/>
<circle cx="322.01" cy="309.24" r="4.8" fill="#c4127f"/>
<circle cx="306.19" cy="294.17" r="4.8" fill="#c4127f"/>
<circle cx="288.01" cy="300.2" r="4.8" fill="#c4127f"/>
<circle cx="285.57" cy="321.08" r="4.6" fill="none" stroke="#111" stroke-width="0.6" stroke-dasharray="1.2 0.9"/>
<circle cx="357.88" cy="297.59" r="4.8" fill="#c4127f"/>
<circle cx="342.45" cy="282.18" r="4.8" fill="#c4127f"/>
<circle cx="324.52" cy="288.02" r="4.8" fill="#c4127f"/>
<circle cx="360.49" cy="276.28" r="4.8" fill="#c4127f"/>
<circle cx="195.56" cy="362.12" r="4.8" fill="#c4127f"/>
<circle cx="176.16" cy="356.63" r="4.8" fill="#c4127f"/>
<circle cx="219.73" cy="330.73" r="4.8" fill="#c4127f"/>
<circle cx="201.28" cy="324.94" r="4.8" fill="#c4127f"/>
<circle cx="188.63" cy="340.79" r="4.8" fill="#c4127f"/>
<circle cx="249.79" cy="300.2" r="4.8" fill="#c4127f"/>
<circle cx="231.61" cy="294.17" r="4.8" fill="#c4127f"/>
<circle cx="215.79" cy="309.24" r="4.8" fill="#c4127f"/>
<circle cx="252.23" cy="321.08" r="4.6" fill="none" stroke="#111" stroke-width="0.6" stroke-dasharray="1.2 0.9"/>
<circle cx="288.12" cy="281.05" r="4.8" fill="#c4127f"/>
<circle cx="268.9" cy="270.65" r="4.8" fill="#c4127f"/>
<circle cx="249.68" cy="281.05" r="4.8" fill="#c4127f"/>
<circle cx="268.9" cy="308.97" r="4.6" fill="none" stroke="#111" stroke-width="0.6" stroke-dasharray="1.2 0.9"/>
<circle cx="325.44" cy="267.75" r="4.8" fill="#c4127f"/>
<circle cx="307.3" cy="254.57" r="4.8" fill="#c4127f"/>
<circle cx="288.31" cy="261.71" r="4.8" fill="#c4127f"/>
<circle cx="326.22" cy="247.61" r="4.8" fill="#c4127f"/>
<circle cx="183.35" cy="319.12" r="4.8" fill="#c4127f"/>
<circle cx="165.28" cy="313.3" r="4.8" fill="#c4127f"/>
<circle cx="213.28" cy="288.02" r="4.8" fill="#c4127f"/>
<circle cx="195.35" cy="282.18" r="4.8" fill="#c4127f"/>
<circle cx="179.92" cy="297.59" r="4.8" fill="#c4127f"/>
<circle cx="249.49" cy="261.71" r="4.8" fill="#c4127f"/>
<circle cx="230.5" cy="254.57" r="4.8" fill="#c4127f"/>
<circle cx="212.36" cy="267.75" r="4.8" fill="#c4127f"/>
<circle cx="288.32" cy="242.86" r="4.8" fill="#c4127f"/>
<circle cx="268.9" cy="232.94" r="4.8" fill="#c4127f"/>
<circle cx="249.48" cy="242.86" r="4.8" fill="#c4127f"/>
<circle cx="288.36" cy="223.87" r="4.8" fill="#c4127f"/>
<circle cx="177.31" cy="276.28" r="4.8" fill="#c4127f"/>
<circle cx="211.58" cy="247.61" r="4.8" fill="#c4127f"/>
<circle cx="249.44" cy="223.87" r="4.8" fill="#c4127f"/>
<circle cx="269.8" cy="327.7" r="66.2" fill="url(#lens)"/>
</g>
<circle cx="269.8" cy="327.7" r="66.2" fill="none" stroke="#111" stroke-width="0.9"/>
</svg>
</body></html>
